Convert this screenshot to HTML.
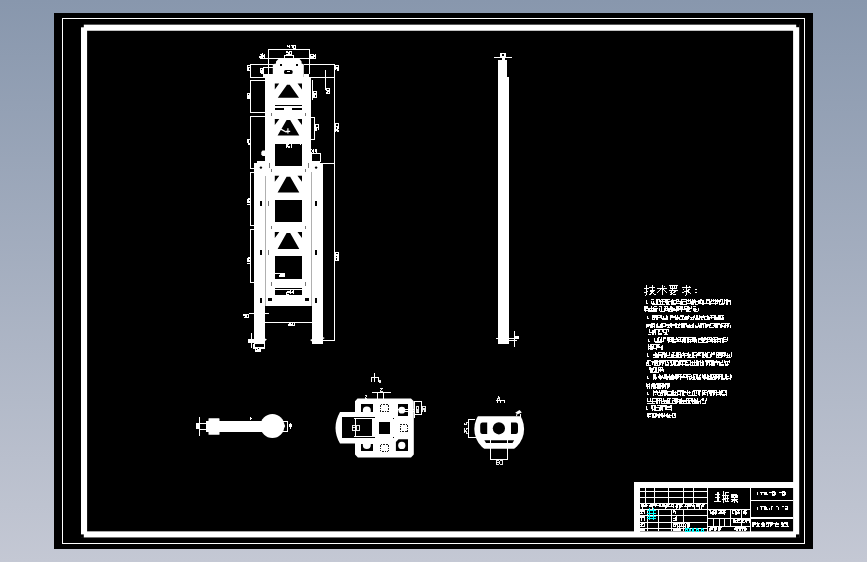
<!DOCTYPE html>
<html><head><meta charset="utf-8">
<style>
html,body{margin:0;padding:0;}
body{width:867px;height:562px;overflow:hidden;background:linear-gradient(#8897ad,#c4c8d4);font-family:"Liberation Sans",sans-serif;}
svg{position:absolute;left:0;top:0;display:block;}
</style></head><body>
<svg width="867" height="562" viewBox="0 0 867 562">
<!-- SHEET -->
<g shape-rendering="crispEdges">
<rect x="54" y="13" width="759" height="535.5" fill="#000"/>
<rect x="62.5" y="18.5" width="742" height="525" fill="none" stroke="#fff" stroke-width="1"/>
<rect x="84.05" y="27.7" width="712.1" height="506.7" fill="none" stroke="#fff" stroke-width="6.1" shape-rendering="geometricPrecision"/>
</g>
<g fill="#000"><rect x="80.5" y="24" width="3.3" height="3.3"/><rect x="796.2" y="24" width="3.3" height="3.2"/><rect x="796" y="534.4" width="3.5" height="3.5"/><rect x="80.5" y="534.4" width="3.3" height="3.5"/></g>
<!-- TOWER -->
<g id="tower" shape-rendering="crispEdges">
<!-- white masses -->
<path fill="#fff" d="M279.4 58H298.8L301.6 61.6V63.6L303.8 64.2V78H272.8V64.2L276 63.6V61.6Z" shape-rendering="auto"/>
<rect x="265.3" y="77.2" width="46" height="229" fill="#fff"/>
<path fill="#fff" d="M257 160.5H320V163.4H322.8V344H312.1V306.3H265V343.6H254.1V163.4H257Z"/>
<!-- separation lines inner/outer -->
<rect x="265.2" y="176" width="0.8" height="130" fill="#b0b0b0"/>
<rect x="311" y="172" width="0.8" height="134" fill="#b0b0b0"/>
<!-- openings -->
<g fill="#000" shape-rendering="auto">
<path d="M287 84.8H289.8L299 97.8H277.8ZM274.8 83.5H279.2L274.8 89.5ZM297.6 83.5H302V89.5Z"/>
<path d="M286.6 120.10000000000001H290.2L299.3 135.6H277.6ZM274.8 119H279.3L274.8 125.1ZM297.5 119H302V125.1Z"/>
<path d="M286.6 176.79999999999998H290.2L299.3 192.5H277.6ZM274.8 175.7H279.3L274.8 181.8ZM297.5 175.7H302V181.8Z"/>
<path d="M286.6 233.1H290.2L299.3 249H277.6ZM274.8 232H279.3L274.8 238.1ZM297.5 232H302V238.1Z"/>
</g>
<g fill="#000">
<rect x="274.9" y="144.2" width="27" height="21.3"/>
<rect x="274.9" y="199.9" width="27" height="22.5"/>
<rect x="274.9" y="256" width="27" height="23.2"/>
<rect x="274.9" y="290.3" width="27" height="4.5"/>
<rect x="274.9" y="287.8" width="27" height="0.8"/>
<rect x="274.7" y="105" width="27.4" height="1.2"/>
<rect x="274.7" y="108.2" width="9.3" height="1.5"/>
<rect x="292.2" y="108.2" width="9.9" height="1.5"/>
</g>
<g fill="#fff">
<!-- top dims -->
<rect x="268" y="49" width="41.5" height="1"/>
<rect x="268" y="49" width="1" height="25"/>
<rect x="308.5" y="49" width="1" height="25"/>
<rect x="260" y="58" width="56" height="1"/>
<rect x="284" y="54.5" width="10" height="1"/>
<rect x="284" y="54.5" width="1" height="4.5"/>
<rect x="293" y="54.5" width="1" height="4.5"/>
<rect x="250" y="63.5" width="23" height="1"/>
<rect x="303.8" y="63.5" width="31" height="1"/>
<rect x="250" y="76.7" width="16" height="1"/>
<rect x="309" y="76.7" width="25.5" height="1"/>
<rect x="250" y="63.5" width="1" height="14"/>
<rect x="263" y="67" width="10" height="1"/>
<rect x="263" y="67" width="1" height="10"/>
<rect x="263" y="74" width="10" height="3.5"/>
<rect x="303.8" y="73.5" width="5.5" height="4"/>
<!-- right long dim -->
<rect x="334" y="63.5" width="1" height="277.5"/>
<rect x="320.8" y="163" width="13.5" height="1"/>
<rect x="322.8" y="340" width="12" height="1"/>
<rect x="325" y="70" width="1" height="19.5"/>
<!-- right brackets -->
<rect x="311.7" y="79.6" width="0.8" height="20"/>
<rect x="311.3" y="117" width="3.5" height="1"/>
<rect x="311.3" y="138.8" width="3.5" height="1"/>
<rect x="314.2" y="117" width="1" height="22.5"/>
<!-- XA box -->
<rect x="311.3" y="153.2" width="9.5" height="8.8"/>
<!-- left brackets -->
<rect x="250" y="80" width="15" height="1"/>
<rect x="250" y="80" width="1" height="32.8"/>
<rect x="250" y="112" width="15" height="1"/>
<rect x="250" y="116" width="15" height="1"/>
<rect x="250" y="116" width="1" height="52.5"/>
<rect x="250" y="167.7" width="4" height="1"/>
<rect x="250" y="171.5" width="4" height="1"/>
<rect x="250" y="171.5" width="1" height="54.3"/>
<rect x="250" y="225" width="4" height="1"/>
<rect x="250" y="228.8" width="4" height="1"/>
<rect x="250" y="228.8" width="1" height="54"/>
<rect x="250" y="282" width="4" height="1"/>
<!-- bottom dims -->
<rect x="248.7" y="313" width="20" height="1"/>
<rect x="265" y="321.5" width="47.2" height="1"/>
<rect x="251" y="333.4" width="1" height="14.8"/>
<rect x="247.8" y="338.5" width="6.5" height="4.5"/>
<rect x="253.2" y="343.6" width="11.6" height="5.2"/>
<path d="M265 341L267 339.5L265 338.5ZM312 341.5L310 340L312 339ZM322.8 339.3L324.8 338L322.8 337Z" shape-rendering="auto"/>
</g>
<g fill="#000">
<rect x="312" y="154.2" width="8" height="6.6"/>
<rect x="254.5" y="344.2" width="9.2" height="2.4"/>
<!-- slots in outer frame -->
<rect x="259.8" y="201.1" width="2.1" height="5.2"/><rect x="314.9" y="201.1" width="2.1" height="5.2"/>
<rect x="259.8" y="249.5" width="2.1" height="5.2"/><rect x="314.9" y="249.5" width="2.1" height="5.2"/>
<rect x="259.8" y="298.1" width="2.1" height="5.3"/><rect x="314.9" y="298.1" width="2.1" height="5.3"/>
<rect x="268.2" y="298.4" width="3.4" height="2.2"/><rect x="305.2" y="298.4" width="3.4" height="2.2"/>
<circle cx="260.9" cy="167.6" r="1.2" shape-rendering="auto"/><circle cx="316.1" cy="167.6" r="1.2" shape-rendering="auto"/>
<!-- head marks -->
<rect x="279.5" y="64" width="2" height="1.5"/><rect x="295.5" y="64" width="2" height="1.5"/>
<rect x="284" y="70" width="8.6" height="4" rx="1.5" shape-rendering="auto"/>
</g>
<rect x="286.5" y="71" width="3.5" height="1" fill="#fff"/>
<!-- ticks (dark) -->
<g fill="#777">
<rect x="271" y="112.6" width="0.8" height="3.2"/><rect x="305" y="112.6" width="0.8" height="3.2"/>
<rect x="269" y="163.4" width="0.8" height="5"/><rect x="308" y="163.4" width="0.8" height="5"/>
<rect x="271" y="169" width="0.8" height="3"/><rect x="305.2" y="169" width="0.8" height="3"/>
<rect x="268.3" y="201.1" width="0.8" height="5.2"/><rect x="308.5" y="201.1" width="0.8" height="5.2"/>
<rect x="271.3" y="225.5" width="0.8" height="3.6"/><rect x="305.2" y="225.5" width="0.8" height="3.6"/>
<rect x="268.3" y="249.5" width="0.8" height="5.2"/><rect x="308.5" y="249.5" width="0.8" height="5.2"/>
<rect x="271.3" y="282.4" width="0.8" height="3.2"/><rect x="305.2" y="282.4" width="0.8" height="3.2"/>
</g>
<!-- tiny texts -->
<!--TW0--><path fill="none" stroke="#fff" stroke-width="1" stroke-linejoin="miter" shape-rendering="crispEdges" d="M287.8 45.3L287.8 46.8L289.9 46.8M289.9 45.3L289.9 48.3M290.8 45.3L292.8 45.3L292.8 48.3M293.7 45.3L295.8 45.3L295.8 48.3L293.7 48.3ZM288.4 51.5L286.4 51.5L286.4 52.8L288.4 52.8L288.4 54.0L286.4 54.0M289.3 51.5L291.4 51.5L291.4 54.0L289.3 54.0ZM259.6 54.5L261.8 54.5L261.8 56.0L259.6 56.0L259.6 57.6L261.8 57.6M262.7 57.6L262.7 54.5L263.7 56.0L264.8 54.5L264.8 57.6M312.5 54.5L310.3 54.5L310.3 56.0L312.5 56.0L312.5 57.6L310.3 57.6M313.4 57.6L313.4 54.5L314.5 56.0L315.6 54.5L315.6 57.6M260.0 73.4L260.0 71.4L261.4 71.4L261.4 73.4L262.8 73.4L262.8 71.4M260.0 70.5L260.0 68.4L262.8 68.4L262.8 70.5ZM247.5 70.7L247.5 68.7L248.8 68.7L248.8 70.7L250.0 70.7L250.0 68.7M247.5 67.8L247.5 65.7L250.0 65.7L250.0 67.8ZM247.6 144.8L250.0 144.8M247.6 143.2L247.6 141.6L248.8 141.6L248.8 143.2L250.0 143.2L250.0 141.6M247.6 139.2L247.6 140.7L248.8 140.7L248.8 139.2L250.0 139.2L250.0 140.7M247.3 204.2L249.6 204.2M247.3 202.5L247.3 201.0L248.4 201.0L248.4 202.5L249.6 202.5L249.6 201.0M247.3 198.5L247.3 200.1L248.4 200.1L248.4 198.5L249.6 198.5L249.6 200.1M247.4 263.4L249.8 263.4M247.4 261.8L247.4 260.2L248.6 260.2L248.6 261.8L249.8 261.8L249.8 260.2M247.4 257.8L247.4 259.3L248.6 259.3L248.6 257.8L249.8 257.8L249.8 259.3M247.3 98.5L247.3 96.5L249.8 96.5L249.8 98.5ZM248.6 98.5L248.6 96.5M247.3 95.5L247.3 93.5L249.8 93.5L249.8 95.5ZM313.0 97.0L313.0 94.5L316.4 94.5L316.4 97.0ZM314.7 97.0L314.7 94.5M313.0 93.5L313.0 91.0L316.4 91.0L316.4 93.5ZM315.3 127.9L315.3 130.2L316.6 130.2L316.6 127.9L318.0 127.9L318.0 130.2M315.3 127.0L315.3 124.8L318.0 124.8L318.0 127.0ZM311.6 149.2L313.9 152.6M313.9 149.2L311.6 152.6M314.8 152.6L315.9 149.2L317.0 152.6M315.3 151.2L316.4 151.2M286.0 144.4L286.0 147.6M289.3 144.4L287.7 144.4L287.7 146.0L289.3 146.0L289.3 147.6L287.7 147.6M291.0 144.4L291.0 147.6M326.0 91.5L326.0 93.5L329.5 93.5L329.5 91.5L327.8 91.5L327.8 93.5M326.0 90.5L326.0 88.5L329.5 88.5L329.5 90.5ZM335.7 70.0L335.7 68.2L337.0 68.2L337.0 70.0L338.3 70.0L338.3 68.2M335.7 67.3L335.7 65.6L338.3 65.6L338.3 67.3ZM335.7 132.2L335.7 130.0L338.4 130.0L338.4 132.2M337.0 132.2L337.0 130.0M335.7 126.9L335.7 129.1L337.0 129.1L337.0 126.9L338.4 126.9L338.4 129.1M335.7 126.0L335.7 123.8L338.4 123.8L338.4 126.0ZM335.7 258.2L335.7 260.4L338.4 260.4L338.4 258.2L337.0 258.2L337.0 260.4M335.7 257.3L335.7 255.1L338.4 255.1L338.4 257.3ZM337.0 257.3L337.0 255.1M335.7 254.2L335.7 252.0L338.4 252.0L338.4 254.2ZM245.6 314.2L243.5 314.2L243.5 315.9L245.6 315.9L245.6 317.6L243.5 317.6M246.4 314.2L248.5 314.2L248.5 317.6L246.4 317.6ZM287.5 322.6L289.2 322.6L289.2 325.6L287.5 325.6M287.5 324.1L289.2 324.1M291.7 322.6L290.1 322.6L290.1 325.6L291.7 325.6L291.7 324.1L290.1 324.1M292.6 322.6L294.3 322.6L294.3 325.6L292.6 325.6ZM279.3 273.2L280.5 273.2L280.5 275.0L279.3 275.0L279.3 276.8L280.5 276.8M281.4 273.2L282.7 273.2L282.7 276.8L281.4 276.8ZM283.6 273.2L284.8 273.2L284.8 276.8L283.6 276.8ZM286.5 291.0L289.4 291.0L289.4 292.7L286.5 292.7L286.5 294.4L289.4 294.4M290.4 294.4L290.4 291.0L291.8 292.7L293.3 291.0L293.3 294.4"/><!--TW1-->
<rect x="274.9" y="272.5" width="4.3" height="1" fill="#fff"/>
<path d="M280.8 129.1L286.6 132.3M287.9 128.2V133.6M286 131.3H290.2" stroke="#fff" stroke-width="1.2" fill="none" shape-rendering="auto"/>
<rect x="300.3" y="144.2" width="1" height="1.2" fill="#fff"/>
<rect x="255" y="347.6" width="5.8" height="4.2" fill="#fff"/><rect x="256.2" y="349.2" width="1" height="1" fill="#000"/><rect x="258.2" y="348.4" width="1" height="1" fill="#000"/>
<!-- small C shape at left -->
<path d="M265.3 150.6H262.5L261.3 152V154.5L262.5 156H265.3Z" fill="#fff" shape-rendering="auto"/>

</g>
<!-- BAR -->
<g id="bar" shape-rendering="crispEdges">
<g fill="#fff">
<path d="M498 60.4H507.4V76.7H509.1V344H498Z"/>
<rect x="500.2" y="53.1" width="5.4" height="4.5"/>
<rect x="494" y="57" width="18" height="1"/>
<rect x="501.5" y="57" width="3" height="3.5"/>
<rect x="495.6" y="338" width="23" height="1"/>
<rect x="514" y="331.2" width="1" height="15.5"/>
<rect x="509" y="339.5" width="8" height="1"/>
<rect x="515" y="336" width="3.5" height="3"/>
</g>
<rect x="501.7" y="54.3" width="2.4" height="2" fill="#000"/>
<rect x="509.5" y="339" width="4" height="0.6" fill="#000"/>

</g>
<!-- VIEW1 -->
<g id="v1">
<g fill="#fff">
<circle cx="272.4" cy="426.1" r="12"/><path d="M281 419L285.2 426L281 433Z"/>
<rect x="205.8" y="420.8" width="60" height="11" shape-rendering="crispEdges"/>
<rect x="208.5" y="418.2" width="11" height="16.6" rx="0.6"/>
<g shape-rendering="crispEdges">
<rect x="199" y="417" width="1" height="19"/>
<rect x="196" y="423" width="3.5" height="5.6"/>
<rect x="199" y="423" width="7" height="1"/>
<rect x="199" y="429.4" width="7" height="1"/>
<rect x="282" y="421" width="6" height="1"/>
<rect x="282" y="431.3" width="6" height="1"/>
<rect x="287.3" y="421" width="1" height="11.3"/>
<rect x="288.6" y="424.4" width="3.2" height="3"/><rect x="289.6" y="423" width="1.3" height="5.8"/>
<rect x="249.5" y="416.5" width="1" height="3"/>
<rect x="250" y="417.5" width="1.5" height="1"/>
</g>
</g>


</g>
<!-- VIEW2 -->
<g id="v2">
<g>
<!-- body -->
<path fill="#fff" d="M357.5 398.5H411L413.8 401.3V454.5L411 457.4H357.9L355 454.5V443.6H340Q331 428 340 412H355V401.3Z"/>
<g fill="#000" shape-rendering="crispEdges">
<rect x="342" y="417.2" width="30.7" height="20.9"/>
<rect x="372" y="417.2" width="3.4" height="1.6"/><rect x="372" y="436.8" width="3.4" height="1.3"/>
<rect x="378.5" y="422.1" width="11.4" height="11.9"/>
<rect x="360.7" y="404.3" width="12.1" height="7.6"/>
<rect x="398" y="404.3" width="10" height="11.9"/>
<rect x="360.7" y="444" width="12.1" height="7.2"/>
<rect x="393.1" y="417.8" width="1.3" height="1.3"/>
<rect x="393.1" y="437" width="1.3" height="1.3"/>
</g>
<path fill="#000" d="M398.5 439.2H408V451H395.9V442Z"/>
<g fill="none" stroke="#000" stroke-width="0.9" stroke-dasharray="1.6 1" shape-rendering="crispEdges">
<rect x="380.8" y="404.8" width="7.2" height="6.8"/>
<rect x="380.8" y="444.5" width="7.2" height="6.8"/>
<rect x="400.4" y="424.6" width="7.4" height="7"/>
</g>
<clipPath id="cTL"><rect x="360.7" y="404.3" width="12.1" height="7.6"/></clipPath>
<clipPath id="cBL"><rect x="360.7" y="444" width="12.1" height="7.2"/></clipPath>
<g fill="#fff">
<circle cx="366.8" cy="410.6" r="4" clip-path="url(#cTL)"/>
<circle cx="401.8" cy="410.2" r="3.4"/>
<circle cx="366.8" cy="445" r="4" clip-path="url(#cBL)"/>
<circle cx="401.8" cy="445.4" r="3.6"/>
<g shape-rendering="crispEdges">
<rect x="354" y="418.3" width="21.4" height="1"/>
<rect x="354" y="436.1" width="21.4" height="1"/>
<rect x="355.3" y="418.3" width="1" height="18.6"/>
<rect x="372.2" y="418.3" width="1.4" height="18.6"/>
<rect x="396.5" y="409" width="17.5" height="0.9"/>
<rect x="401" y="411" width="13" height="0.9"/>
<!-- top dims -->
<rect x="374" y="373" width="1" height="9"/>
<rect x="370.7" y="377.3" width="8" height="1"/>
<rect x="370.7" y="377.3" width="1" height="4.5"/>
<rect x="378" y="377.3" width="1" height="4.5"/>
<rect x="371.6" y="392.2" width="19.3" height="1"/>
<rect x="377" y="392.2" width="1" height="6.5"/>
<rect x="383.4" y="392.2" width="1" height="6.5"/>
<!-- right box -->
<rect x="413.6" y="401" width="8.5" height="1"/>
<rect x="413.6" y="414" width="8.5" height="1"/>
<rect x="421.2" y="401" width="1" height="14"/>
<rect x="413.6" y="401" width="1.2" height="17.2"/>
</g>
</g>
<!--V20--><path fill="none" stroke="#fff" stroke-width="0.9" shape-rendering="crispEdges" d="M355.4 425.6L352.0 425.6L352.0 430.0L355.4 430.0L355.4 427.8L352.0 427.8M356.4 425.6L359.8 425.6L359.8 430.0L356.4 430.0ZM380.4 388.4L383.0 388.4L380.4 391.0L383.0 391.0M364.8 395.6L367.2 395.6L364.8 398.0L367.2 398.0M422.6 411.8L422.6 409.4L424.0 409.4L424.0 411.8L425.4 411.8L425.4 409.4M422.6 408.6L422.6 406.2L425.4 406.2L425.4 408.6ZM416.0 412.5L416.0 409.9L417.4 409.9L417.4 412.5L418.8 412.5L418.8 409.9M416.0 409.1L416.0 406.5L418.8 406.5L418.8 409.1ZM380.6 380.8L379.2 380.8L379.2 381.4L380.6 381.4L380.6 382.0L379.2 382.0"/><!--V21-->
</g>
</g>
<!-- VIEW3 -->
<g id="v3">
<g>
<clipPath id="c3"><rect x="470" y="416.2" width="60" height="32.5"/></clipPath>
<circle cx="499.2" cy="429" r="24.9" fill="#fff" clip-path="url(#c3)"/>
<g fill="#000">
<circle cx="498.9" cy="428.3" r="6.1"/>
<path d="M487.2 422.4H482.5Q480.2 422.4 480.2 425.4V431Q480.2 434 482.5 434H487.2Z"/>
<path d="M511 422.4H515.7Q518 422.4 518 425.4V431Q518 434 515.7 434H511Z"/>
<path d="M484.4 440.3H514.1L512.5 443H486Z"/>
</g>
<g fill="#fff" shape-rendering="crispEdges">
<rect x="490" y="440.3" width="1" height="19"/>
<rect x="507.3" y="440.3" width="1" height="19"/>
<rect x="490" y="458.5" width="18.3" height="1"/>
<rect x="468.4" y="419.2" width="7" height="1"/>
<rect x="468.4" y="436.8" width="8" height="1"/>
<rect x="468.4" y="419.2" width="1" height="18.5"/>
<rect x="495.6" y="400.3" width="9" height="1"/>
<rect x="497" y="400.3" width="1" height="3"/>
<rect x="500" y="400.3" width="1" height="3"/>
<rect x="503.5" y="400.3" width="1" height="3"/>
<rect x="519.5" y="414.3" width="1.2" height="2.2"/>
</g>
<path d="M515.2 412.8L519.5 410L521.8 412.6L517.8 414.2Z" fill="#fff"/>
<path d="M516.5 416.2L517 413.5" stroke="#fff" stroke-width="1"/>
<!--V30--><path fill="none" stroke="#fff" stroke-width="0.9" shape-rendering="crispEdges" d="M499.1 460.6L496.4 460.6L496.4 464.4L499.1 464.4L499.1 462.5L496.4 462.5M499.9 460.6L502.6 460.6L502.6 464.4L499.9 464.4ZM497.6 399.6L498.8 396.0L500.0 399.6M498.2 398.2L499.4 398.2M464.0 433.2L464.0 431.2L466.0 431.2L466.0 433.2L468.0 433.2L468.0 431.2M464.0 428.4L464.0 430.3L466.0 430.3L466.0 428.4L468.0 428.4L468.0 430.3M467.6 426.7L468.0 426.7M464.0 422.6L464.0 424.6L466.0 424.6L466.0 422.6L468.0 422.6L468.0 424.6"/><!--V31-->
</g>

</g>
<!-- TEXT -->
<g id="txt">
<!--TXT0--><g fill="none" stroke="#fff" stroke-width="1" shape-rendering="crispEdges">
<path d="M644 288.1H648.5M646.1 285V295M645 295H646.1M644.5 292.5L648.2 291M649 287.7H655.4M652 285V289.8M649.8 290.2H654.6L649.3 295M650.3 291L655.4 295"/>
<path d="M662 285V295.2M657.4 288.1H666.7M661.4 288.5L657.2 292.9M662.6 288.5L666.9 292.9M664.2 286H665.2"/>
<path d="M669.3 285.5H678M670.3 285.5V288.5H676.8V285.5M672.3 285.5V288.5M674.7 285.5V288.5M669.1 290.9H678M672.7 289L670.7 293L676 295M675.5 291.3L670.3 295"/>
<path d="M682 287.7H691M686.3 285V295M685.2 295H686.3M688.8 286H689.8M682.8 289.4H683.8M682.4 293L685.6 290.9M689.7 288.9L687.3 290.9M686.8 290.5L691 294.1"/>
<path d="M694.9 289.4H697.3M694.9 292.7H697.3" stroke-width="1.4"/>
</g>
<path fill="#fff" shape-rendering="crispEdges" d="M645.8 300.4h1.0v3.3h-1.0zM645.8 302.7h2.0v1.0h-2.0zM652.3 302.5h3.0v1.0h-3.0zM651.3 298.9h3.0v1.0h-3.0zM652.3 303.7h3.9v1.0h-3.9zM651.3 300.9h1.0v3.0h-1.0zM656.1 298.9h1.0v3.0h-1.0zM652.5 300.9h1.0v3.0h-1.0zM657.2 303.7h3.9v1.0h-3.9zM656.2 298.9h4.0v1.0h-4.0zM656.2 298.9h1.0v5.8h-1.0zM657.4 298.9h1.0v5.8h-1.0zM659.9 299.9h1.0v4.8h-1.0zM658.6 298.9h1.0v3.0h-1.0zM661.1 303.7h4.0v1.0h-4.0zM661.1 298.9h4.9v1.0h-4.9zM661.1 301.3h4.9v1.0h-4.9zM665.9 299.9h1.0v4.0h-1.0zM664.8 298.9h1.0v4.0h-1.0zM662.3 298.9h1.0v5.8h-1.0zM664.1 300.9h1.5v1.2h-1.5zM666.0 298.9h4.0v1.0h-4.0zM666.0 303.7h4.0v1.0h-4.0zM666.0 301.3h4.9v1.0h-4.9zM666.0 299.9h1.0v4.8h-1.0zM670.8 300.9h1.0v3.8h-1.0zM668.4 300.9h1.0v3.0h-1.0zM667.2 298.9h1.0v5.0h-1.0zM666.0 298.9h1.5v1.2h-1.5zM671.9 303.7h3.9v1.0h-3.9zM671.9 302.5h3.9v1.0h-3.9zM670.9 300.1h4.9v1.0h-4.9zM673.3 300.9h1.0v3.0h-1.0zM672.1 298.9h1.0v5.0h-1.0zM675.7 298.9h1.0v4.0h-1.0zM670.9 300.9h1.0v3.8h-1.0zM675.8 302.5h4.9v1.0h-4.9zM676.8 301.3h3.9v1.0h-3.9zM679.5 300.9h1.0v3.8h-1.0zM678.2 298.9h1.0v3.0h-1.0zM680.6 298.9h1.0v4.0h-1.0zM676.8 298.9h1.5v1.2h-1.5zM680.7 301.3h4.9v1.0h-4.9zM681.7 303.7h3.9v1.0h-3.9zM681.7 298.9h3.9v1.0h-3.9zM681.9 300.9h1.0v3.8h-1.0zM680.7 300.9h1.0v3.8h-1.0zM685.5 298.9h1.0v5.8h-1.0zM685.6 302.5h4.6v1.0h-4.6zM686.6 300.1h3.0v1.0h-3.0zM685.6 298.9h1.0v5.8h-1.0zM690.4 298.9h1.0v5.0h-1.0zM688.0 298.9h1.0v3.0h-1.0zM691.5 301.3h3.9v1.0h-3.9zM690.5 303.7h3.0v1.0h-3.0zM690.5 300.9h1.0v3.8h-1.0zM694.2 298.9h1.0v4.0h-1.0zM691.7 298.9h1.0v5.0h-1.0zM692.9 299.9h1.0v4.8h-1.0zM695.4 303.7h3.0v1.0h-3.0zM696.4 301.3h3.9v1.0h-3.9zM695.4 299.9h1.0v4.0h-1.0zM697.8 299.9h1.0v4.0h-1.0zM699.1 299.9h1.0v4.0h-1.0zM700.3 302.5h4.9v1.0h-4.9zM700.3 300.1h3.0v1.0h-3.0zM700.3 299.9h1.0v4.0h-1.0zM702.7 299.9h1.0v4.8h-1.0zM701.5 299.9h1.0v4.8h-1.0zM700.3 298.9h1.5v1.2h-1.5zM706.2 302.5h3.9v1.0h-3.9zM706.2 298.9h3.0v1.0h-3.0zM706.2 300.1h3.0v1.0h-3.0zM708.9 298.9h1.0v5.8h-1.0zM706.4 299.9h1.0v3.0h-1.0zM710.0 300.9h1.0v3.8h-1.0zM705.2 302.9h1.5v1.2h-1.5zM711.1 300.1h3.9v1.0h-3.9zM711.1 302.5h3.9v1.0h-3.9zM712.5 298.9h1.0v3.0h-1.0zM711.3 298.9h1.0v3.0h-1.0zM714.9 298.9h1.0v5.8h-1.0zM715.0 301.3h4.0v1.0h-4.0zM716.0 300.1h3.9v1.0h-3.9zM717.4 298.9h1.0v5.0h-1.0zM718.7 300.9h1.0v3.8h-1.0zM715.0 300.9h1.0v3.8h-1.0zM716.0 302.9h1.5v1.2h-1.5zM719.9 303.7h4.0v1.0h-4.0zM719.9 298.9h3.0v1.0h-3.0zM720.9 302.5h3.0v1.0h-3.0zM722.3 298.9h1.0v4.0h-1.0zM723.6 298.9h1.0v5.0h-1.0zM719.9 298.9h1.0v3.0h-1.0zM725.8 301.3h3.9v1.0h-3.9zM724.8 300.1h4.9v1.0h-4.9zM729.6 299.9h1.0v4.8h-1.0zM726.0 298.9h1.0v5.8h-1.0zM727.2 298.9h1.0v5.8h-1.0zM727.8 300.9h1.5v1.2h-1.5zM644.0 307.6h4.0v1.0h-4.0zM645.0 310.0h3.9v1.0h-3.9zM644.0 306.4h1.0v5.0h-1.0zM645.2 306.4h1.0v5.8h-1.0zM646.5 306.4h1.0v3.0h-1.0zM647.7 308.4h1.0v3.8h-1.0zM645.0 306.4h1.5v1.2h-1.5zM648.9 311.2h4.0v1.0h-4.0zM648.9 310.0h4.6v1.0h-4.6zM648.9 307.6h4.6v1.0h-4.6zM648.9 308.4h1.0v3.8h-1.0zM651.4 306.4h1.0v5.8h-1.0zM652.6 307.4h1.0v4.8h-1.0zM653.8 307.6h4.6v1.0h-4.6zM653.8 306.4h3.0v1.0h-3.0zM655.0 308.4h1.0v3.8h-1.0zM656.2 308.4h1.0v3.8h-1.0zM653.8 308.4h1.0v3.8h-1.0zM653.8 310.4h1.5v1.2h-1.5zM658.7 306.4h3.0v1.0h-3.0zM659.7 311.2h3.9v1.0h-3.9zM658.7 308.4h1.0v3.0h-1.0zM661.1 307.4h1.0v4.8h-1.0zM663.5 308.4h1.0v3.8h-1.0zM663.6 306.4h4.0v1.0h-4.0zM663.6 307.6h4.6v1.0h-4.6zM664.6 310.0h3.9v1.0h-3.9zM668.4 308.4h1.0v3.8h-1.0zM664.8 306.4h1.0v5.0h-1.0zM667.3 307.4h1.0v3.0h-1.0zM669.5 311.2h3.9v1.0h-3.9zM668.5 307.6h4.9v1.0h-4.9zM668.5 308.4h1.0v3.8h-1.0zM672.2 307.4h1.0v4.0h-1.0zM670.9 306.4h1.0v5.0h-1.0zM669.7 306.4h1.0v4.0h-1.0zM670.5 306.4h1.5v1.2h-1.5zM673.4 308.8h3.0v1.0h-3.0zM673.4 310.0h4.9v1.0h-4.9zM678.2 306.4h1.0v5.0h-1.0zM675.8 306.4h1.0v5.8h-1.0zM677.1 306.4h1.0v4.0h-1.0zM673.4 308.4h1.5v1.2h-1.5zM678.3 308.8h4.0v1.0h-4.0zM678.3 307.6h4.0v1.0h-4.0zM678.3 306.4h4.6v1.0h-4.6zM682.0 306.4h1.0v4.0h-1.0zM678.3 306.4h1.0v3.0h-1.0zM679.5 307.4h1.0v3.0h-1.0zM680.7 306.4h1.0v5.8h-1.0zM684.2 307.6h3.9v1.0h-3.9zM684.2 306.4h3.9v1.0h-3.9zM683.2 308.8h4.9v1.0h-4.9zM684.4 306.4h1.0v3.0h-1.0zM685.6 308.4h1.0v3.8h-1.0zM686.9 306.4h1.0v5.8h-1.0zM688.1 311.2h3.0v1.0h-3.0zM688.1 307.6h4.0v1.0h-4.0zM690.5 306.4h1.0v3.0h-1.0zM688.1 306.4h1.0v5.8h-1.0zM689.3 307.4h1.0v3.0h-1.0zM692.9 308.4h1.0v3.0h-1.0zM694.0 311.2h3.9v1.0h-3.9zM693.0 306.4h3.0v1.0h-3.0zM693.0 308.8h4.0v1.0h-4.0zM694.2 308.4h1.0v3.8h-1.0zM697.8 308.4h1.0v3.0h-1.0zM695.4 308.4h1.0v3.8h-1.0zM646.9 316.0h1.0v3.3h-1.0zM646.9 318.3h2.0v1.0h-2.0zM652.4 315.7h4.6v1.0h-4.6zM652.4 314.5h4.6v1.0h-4.6zM653.4 316.9h3.9v1.0h-3.9zM652.4 315.5h1.0v3.0h-1.0zM656.1 314.5h1.0v5.8h-1.0zM657.2 315.5h1.0v4.8h-1.0zM653.6 315.5h1.0v4.8h-1.0zM652.4 318.5h1.5v1.2h-1.5zM657.3 314.5h3.0v1.0h-3.0zM658.3 316.9h3.9v1.0h-3.9zM659.8 314.5h1.0v3.0h-1.0zM661.0 314.5h1.0v4.0h-1.0zM657.3 315.5h1.0v4.8h-1.0zM659.3 314.5h1.5v1.2h-1.5zM662.2 318.1h4.0v1.0h-4.0zM662.2 319.3h4.9v1.0h-4.9zM665.9 314.5h1.0v5.8h-1.0zM667.0 315.5h1.0v4.8h-1.0zM663.4 315.5h1.0v3.0h-1.0zM670.0 315.7h4.6v1.0h-4.6zM670.0 314.5h3.0v1.0h-3.0zM670.0 316.9h4.9v1.0h-4.9zM674.8 316.5h1.0v3.8h-1.0zM670.0 314.5h1.0v5.0h-1.0zM671.3 314.5h1.0v3.0h-1.0zM675.9 316.9h3.9v1.0h-3.9zM674.9 318.1h4.6v1.0h-4.6zM678.6 316.5h1.0v3.8h-1.0zM674.9 314.5h1.0v3.0h-1.0zM677.4 314.5h1.0v5.8h-1.0zM675.9 318.5h1.5v1.2h-1.5zM679.8 319.3h4.9v1.0h-4.9zM679.8 315.7h4.6v1.0h-4.6zM679.8 314.5h4.6v1.0h-4.6zM682.3 314.5h1.0v5.0h-1.0zM683.5 316.5h1.0v3.8h-1.0zM684.6 316.5h1.0v3.0h-1.0zM680.8 314.5h1.5v1.2h-1.5zM684.7 315.7h4.9v1.0h-4.9zM684.7 318.1h4.0v1.0h-4.0zM684.7 319.3h3.0v1.0h-3.0zM686.0 315.5h1.0v4.0h-1.0zM687.2 315.5h1.0v4.8h-1.0zM688.4 314.5h1.0v3.0h-1.0zM684.7 316.5h1.0v3.8h-1.0zM685.7 316.5h1.5v1.2h-1.5zM689.6 316.9h4.0v1.0h-4.0zM689.6 319.3h4.6v1.0h-4.6zM690.9 316.5h1.0v3.8h-1.0zM693.3 315.5h1.0v3.0h-1.0zM694.4 314.5h1.0v3.0h-1.0zM692.6 318.5h1.5v1.2h-1.5zM694.5 319.3h4.0v1.0h-4.0zM694.5 318.1h4.0v1.0h-4.0zM695.8 314.5h1.0v5.8h-1.0zM699.3 314.5h1.0v5.8h-1.0zM697.0 314.5h1.0v3.0h-1.0zM700.4 316.9h3.9v1.0h-3.9zM700.4 315.7h3.9v1.0h-3.9zM699.4 314.5h1.0v5.8h-1.0zM704.2 315.5h1.0v4.0h-1.0zM703.1 314.5h1.0v3.0h-1.0zM700.7 315.5h1.0v4.8h-1.0zM701.4 318.5h1.5v1.2h-1.5zM705.3 319.3h3.9v1.0h-3.9zM704.3 315.7h4.9v1.0h-4.9zM706.8 314.5h1.0v5.8h-1.0zM704.3 316.5h1.0v3.0h-1.0zM708.0 315.5h1.0v4.0h-1.0zM710.2 314.5h3.9v1.0h-3.9zM709.2 316.9h4.9v1.0h-4.9zM710.5 314.5h1.0v4.0h-1.0zM709.2 316.5h1.0v3.8h-1.0zM714.0 315.5h1.0v4.0h-1.0zM710.2 316.5h1.5v1.2h-1.5zM714.1 319.3h4.0v1.0h-4.0zM714.1 318.1h4.9v1.0h-4.9zM715.1 316.9h3.0v1.0h-3.0zM718.9 314.5h1.0v4.0h-1.0zM715.4 314.5h1.0v5.8h-1.0zM717.8 314.5h1.0v5.8h-1.0zM714.1 314.5h1.5v1.2h-1.5zM719.0 314.5h4.0v1.0h-4.0zM719.0 319.3h4.9v1.0h-4.9zM719.0 318.1h4.6v1.0h-4.6zM722.7 316.5h1.0v3.8h-1.0zM721.5 314.5h1.0v3.0h-1.0zM720.3 314.5h1.0v5.0h-1.0zM722.0 314.5h1.5v1.2h-1.5zM646.3 326.1h3.0v1.0h-3.0zM646.3 324.9h4.9v1.0h-4.9zM646.3 323.7h4.6v1.0h-4.6zM651.1 323.5h1.0v4.8h-1.0zM650.0 324.5h1.0v3.0h-1.0zM646.3 324.5h1.0v3.8h-1.0zM651.2 326.1h3.0v1.0h-3.0zM651.2 322.5h4.0v1.0h-4.0zM652.2 323.7h3.0v1.0h-3.0zM656.0 323.5h1.0v4.8h-1.0zM653.6 322.5h1.0v5.0h-1.0zM652.4 323.5h1.0v4.8h-1.0zM651.2 322.5h1.5v1.2h-1.5zM656.1 326.1h4.9v1.0h-4.9zM656.1 327.3h4.0v1.0h-4.0zM659.8 323.5h1.0v4.0h-1.0zM657.3 322.5h1.0v5.0h-1.0zM656.1 323.5h1.0v4.8h-1.0zM656.1 326.5h1.5v1.2h-1.5zM662.0 326.1h3.0v1.0h-3.0zM661.0 322.5h4.6v1.0h-4.6zM662.2 322.5h1.0v5.0h-1.0zM664.7 322.5h1.0v4.0h-1.0zM661.0 322.5h1.0v5.8h-1.0zM664.0 322.5h1.5v1.2h-1.5zM666.9 327.3h3.0v1.0h-3.0zM665.9 323.7h4.6v1.0h-4.6zM665.9 324.9h4.6v1.0h-4.6zM668.3 323.5h1.0v4.0h-1.0zM670.7 324.5h1.0v3.8h-1.0zM669.6 322.5h1.0v4.0h-1.0zM667.9 326.5h1.5v1.2h-1.5zM671.8 324.9h3.9v1.0h-3.9zM671.8 323.7h3.0v1.0h-3.0zM674.5 322.5h1.0v5.8h-1.0zM670.8 322.5h1.0v5.8h-1.0zM675.6 323.5h1.0v3.0h-1.0zM675.7 327.3h4.6v1.0h-4.6zM676.7 323.7h3.9v1.0h-3.9zM679.4 322.5h1.0v3.0h-1.0zM678.1 323.5h1.0v4.0h-1.0zM680.5 322.5h1.0v5.0h-1.0zM675.7 322.5h1.5v1.2h-1.5zM680.6 323.7h4.9v1.0h-4.9zM681.6 322.5h3.9v1.0h-3.9zM681.8 322.5h1.0v5.8h-1.0zM683.0 324.5h1.0v3.0h-1.0zM680.6 324.5h1.0v3.0h-1.0zM684.3 324.5h1.0v3.8h-1.0zM680.6 326.5h1.5v1.2h-1.5zM685.5 326.1h4.9v1.0h-4.9zM685.5 324.9h4.6v1.0h-4.6zM686.5 327.3h3.9v1.0h-3.9zM689.2 323.5h1.0v4.0h-1.0zM690.3 324.5h1.0v3.8h-1.0zM685.5 322.5h1.0v3.0h-1.0zM686.5 324.5h1.5v1.2h-1.5zM690.4 327.3h4.0v1.0h-4.0zM690.4 324.9h3.0v1.0h-3.0zM690.4 324.5h1.0v3.0h-1.0zM691.6 323.5h1.0v4.8h-1.0zM692.8 322.5h1.0v4.0h-1.0zM691.4 326.5h1.5v1.2h-1.5zM695.3 326.1h4.6v1.0h-4.6zM695.3 327.3h3.0v1.0h-3.0zM699.0 324.5h1.0v3.0h-1.0zM697.7 322.5h1.0v4.0h-1.0zM695.3 324.5h1.0v3.8h-1.0zM700.2 323.7h4.0v1.0h-4.0zM700.2 322.5h4.6v1.0h-4.6zM700.2 322.5h1.0v5.8h-1.0zM701.4 322.5h1.0v5.0h-1.0zM705.0 322.5h1.0v5.8h-1.0zM702.6 324.5h1.0v3.8h-1.0zM705.1 324.9h4.6v1.0h-4.6zM705.1 323.7h4.9v1.0h-4.9zM705.1 326.1h3.0v1.0h-3.0zM705.1 322.5h1.0v5.8h-1.0zM708.8 324.5h1.0v3.8h-1.0zM706.3 324.5h1.0v3.8h-1.0zM706.1 324.5h1.5v1.2h-1.5zM710.0 327.3h4.0v1.0h-4.0zM710.0 322.5h4.6v1.0h-4.6zM714.8 324.5h1.0v3.8h-1.0zM710.0 322.5h1.0v3.0h-1.0zM713.7 322.5h1.0v4.0h-1.0zM713.0 324.5h1.5v1.2h-1.5zM714.9 323.7h4.6v1.0h-4.6zM714.9 322.5h4.6v1.0h-4.6zM719.7 323.5h1.0v4.8h-1.0zM717.3 324.5h1.0v3.8h-1.0zM716.1 323.5h1.0v4.8h-1.0zM714.9 322.5h1.0v5.0h-1.0zM715.9 322.5h1.5v1.2h-1.5zM719.8 324.9h3.0v1.0h-3.0zM720.8 326.1h3.0v1.0h-3.0zM720.8 322.5h3.9v1.0h-3.9zM723.5 324.5h1.0v3.8h-1.0zM719.8 323.5h1.0v4.8h-1.0zM721.0 323.5h1.0v4.8h-1.0zM721.8 322.5h1.5v1.2h-1.5zM725.7 322.5h3.9v1.0h-3.9zM724.7 324.9h4.6v1.0h-4.6zM724.7 323.5h1.0v4.8h-1.0zM729.5 324.5h1.0v3.8h-1.0zM728.4 323.5h1.0v3.0h-1.0zM727.1 322.5h1.0v5.8h-1.0zM724.7 322.5h1.5v1.2h-1.5zM648.0 334.2h3.0v1.0h-3.0zM649.0 331.8h3.9v1.0h-3.9zM652.8 330.4h1.0v4.8h-1.0zM649.2 329.4h1.0v4.0h-1.0zM651.7 330.4h1.0v4.8h-1.0zM653.9 329.4h3.9v1.0h-3.9zM652.9 330.6h3.0v1.0h-3.0zM652.9 330.4h1.0v4.8h-1.0zM654.1 330.4h1.0v3.0h-1.0zM655.4 329.4h1.0v5.8h-1.0zM657.8 334.2h3.0v1.0h-3.0zM657.8 333.0h3.0v1.0h-3.0zM658.8 329.4h3.0v1.0h-3.0zM661.5 329.4h1.0v3.0h-1.0zM659.0 329.4h1.0v3.0h-1.0zM657.8 329.4h1.0v4.0h-1.0zM660.8 333.4h1.5v1.2h-1.5zM662.7 331.8h3.0v1.0h-3.0zM662.7 329.4h4.9v1.0h-4.9zM663.7 334.2h3.9v1.0h-3.9zM662.7 329.4h1.0v3.0h-1.0zM666.4 330.4h1.0v4.0h-1.0zM667.5 329.4h1.0v3.0h-1.0zM664.7 333.4h1.5v1.2h-1.5zM648.0 338.5h1.0v3.3h-1.0zM648.0 340.8h2.0v1.0h-2.0zM654.5 341.8h3.9v1.0h-3.9zM653.5 340.6h4.0v1.0h-4.0zM653.5 338.0h1.0v4.0h-1.0zM658.3 337.0h1.0v4.0h-1.0zM657.2 338.0h1.0v4.0h-1.0zM658.4 341.8h3.0v1.0h-3.0zM658.4 340.6h4.9v1.0h-4.9zM659.6 339.0h1.0v3.8h-1.0zM660.9 337.0h1.0v5.8h-1.0zM658.4 337.0h1.0v4.0h-1.0zM658.4 337.0h1.5v1.2h-1.5zM663.3 338.2h3.0v1.0h-3.0zM663.3 337.0h3.0v1.0h-3.0zM663.3 338.0h1.0v4.0h-1.0zM668.1 337.0h1.0v5.8h-1.0zM667.0 337.0h1.0v4.0h-1.0zM663.3 337.0h1.5v1.2h-1.5zM668.2 339.4h3.0v1.0h-3.0zM669.2 340.6h3.9v1.0h-3.9zM668.2 337.0h4.6v1.0h-4.6zM670.6 337.0h1.0v5.0h-1.0zM671.9 338.0h1.0v4.8h-1.0zM669.4 337.0h1.0v5.0h-1.0zM674.1 340.6h3.0v1.0h-3.0zM673.1 339.4h3.0v1.0h-3.0zM673.1 341.8h3.0v1.0h-3.0zM675.5 337.0h1.0v3.0h-1.0zM676.8 338.0h1.0v4.0h-1.0zM677.9 339.0h1.0v3.0h-1.0zM673.1 337.0h1.0v5.0h-1.0zM678.0 340.6h4.0v1.0h-4.0zM678.0 337.0h4.6v1.0h-4.6zM682.8 337.0h1.0v5.0h-1.0zM680.4 337.0h1.0v4.0h-1.0zM681.7 339.0h1.0v3.8h-1.0zM678.0 339.0h1.5v1.2h-1.5zM682.9 337.0h4.9v1.0h-4.9zM682.9 339.4h3.0v1.0h-3.0zM682.9 338.2h3.0v1.0h-3.0zM685.3 339.0h1.0v3.8h-1.0zM684.1 337.0h1.0v5.8h-1.0zM686.6 337.0h1.0v5.8h-1.0zM687.7 337.0h1.0v5.8h-1.0zM687.8 337.0h4.0v1.0h-4.0zM687.8 339.4h4.6v1.0h-4.6zM687.8 340.6h4.9v1.0h-4.9zM691.5 337.0h1.0v5.0h-1.0zM690.2 339.0h1.0v3.8h-1.0zM692.6 337.0h1.0v5.0h-1.0zM687.8 338.0h1.0v4.8h-1.0zM688.8 337.0h1.5v1.2h-1.5zM692.7 339.4h4.0v1.0h-4.0zM692.7 338.2h3.0v1.0h-3.0zM692.7 337.0h3.0v1.0h-3.0zM693.9 338.0h1.0v4.8h-1.0zM696.4 339.0h1.0v3.8h-1.0zM692.7 337.0h1.0v3.0h-1.0zM695.1 337.0h1.0v5.0h-1.0zM695.7 339.0h1.5v1.2h-1.5zM697.6 338.2h4.0v1.0h-4.0zM697.6 339.4h4.9v1.0h-4.9zM697.6 341.8h4.0v1.0h-4.0zM701.3 337.0h1.0v4.0h-1.0zM702.4 337.0h1.0v5.8h-1.0zM697.6 339.0h1.0v3.8h-1.0zM697.6 339.0h1.5v1.2h-1.5zM702.5 338.2h4.9v1.0h-4.9zM702.5 339.4h4.9v1.0h-4.9zM703.5 341.8h3.9v1.0h-3.9zM704.9 337.0h1.0v3.0h-1.0zM702.5 338.0h1.0v4.8h-1.0zM703.7 337.0h1.0v4.0h-1.0zM707.3 337.0h1.0v5.8h-1.0zM705.5 341.0h1.5v1.2h-1.5zM707.4 337.0h4.9v1.0h-4.9zM708.4 339.4h3.9v1.0h-3.9zM707.4 340.6h4.0v1.0h-4.0zM711.1 337.0h1.0v5.0h-1.0zM707.4 338.0h1.0v4.8h-1.0zM709.8 339.0h1.0v3.0h-1.0zM708.6 337.0h1.0v3.0h-1.0zM710.4 341.0h1.5v1.2h-1.5zM712.3 339.4h4.9v1.0h-4.9zM713.3 337.0h3.9v1.0h-3.9zM712.3 340.6h4.9v1.0h-4.9zM713.5 337.0h1.0v5.8h-1.0zM717.1 337.0h1.0v4.0h-1.0zM712.3 338.0h1.0v4.8h-1.0zM714.7 339.0h1.0v3.8h-1.0zM717.2 338.2h4.6v1.0h-4.6zM717.2 339.4h4.0v1.0h-4.0zM717.2 340.6h3.0v1.0h-3.0zM719.6 338.0h1.0v4.8h-1.0zM722.0 339.0h1.0v3.8h-1.0zM717.2 339.0h1.0v3.8h-1.0zM722.1 339.4h4.6v1.0h-4.6zM722.1 340.6h4.6v1.0h-4.6zM723.1 337.0h3.0v1.0h-3.0zM722.1 338.0h1.0v4.8h-1.0zM723.3 337.0h1.0v5.8h-1.0zM726.9 337.0h1.0v4.0h-1.0zM725.1 339.0h1.5v1.2h-1.5zM648.1 348.0h3.0v1.0h-3.0zM648.1 345.6h3.9v1.0h-3.9zM648.3 344.4h1.0v5.8h-1.0zM650.8 344.4h1.0v5.8h-1.0zM649.6 344.4h1.0v5.8h-1.0zM650.1 344.4h1.5v1.2h-1.5zM652.0 348.0h4.9v1.0h-4.9zM652.0 344.4h4.9v1.0h-4.9zM653.2 344.4h1.0v4.0h-1.0zM655.7 345.4h1.0v4.8h-1.0zM652.0 346.4h1.0v3.8h-1.0zM656.9 344.4h3.0v1.0h-3.0zM656.9 345.6h3.0v1.0h-3.0zM657.9 346.8h3.9v1.0h-3.9zM656.9 344.4h1.0v4.0h-1.0zM660.6 346.4h1.0v3.8h-1.0zM658.1 345.4h1.0v3.0h-1.0zM661.7 345.4h1.0v4.8h-1.0zM657.9 346.4h1.5v1.2h-1.5zM647.1 353.2h1.0v3.3h-1.0zM647.1 355.5h2.0v1.0h-2.0zM652.6 355.3h4.6v1.0h-4.6zM652.6 354.1h4.6v1.0h-4.6zM652.6 356.5h4.9v1.0h-4.9zM655.1 352.7h1.0v4.0h-1.0zM657.4 353.7h1.0v3.0h-1.0zM656.3 352.7h1.0v4.0h-1.0zM654.6 351.7h1.5v1.2h-1.5zM658.5 351.7h3.9v1.0h-3.9zM658.5 355.3h3.0v1.0h-3.0zM657.5 354.1h4.6v1.0h-4.6zM657.5 351.7h1.0v5.8h-1.0zM662.3 351.7h1.0v5.8h-1.0zM661.2 353.7h1.0v3.8h-1.0zM657.5 351.7h1.5v1.2h-1.5zM662.4 352.9h3.0v1.0h-3.0zM662.4 351.7h3.0v1.0h-3.0zM663.4 354.1h3.0v1.0h-3.0zM664.9 352.7h1.0v4.8h-1.0zM663.6 351.7h1.0v5.8h-1.0zM666.1 351.7h1.0v5.0h-1.0zM662.4 353.7h1.5v1.2h-1.5zM667.3 355.3h3.0v1.0h-3.0zM667.3 356.5h4.9v1.0h-4.9zM672.1 353.7h1.0v3.8h-1.0zM668.5 351.7h1.0v3.0h-1.0zM671.0 353.7h1.0v3.8h-1.0zM672.2 351.7h3.0v1.0h-3.0zM672.2 356.5h4.9v1.0h-4.9zM672.2 355.3h4.6v1.0h-4.6zM677.0 351.7h1.0v3.0h-1.0zM673.4 352.7h1.0v4.0h-1.0zM675.9 351.7h1.0v5.0h-1.0zM677.1 354.1h3.0v1.0h-3.0zM677.1 351.7h3.0v1.0h-3.0zM678.1 356.5h3.0v1.0h-3.0zM680.8 353.7h1.0v3.8h-1.0zM679.5 351.7h1.0v5.0h-1.0zM678.3 352.7h1.0v4.8h-1.0zM677.1 353.7h1.0v3.8h-1.0zM682.0 352.9h4.9v1.0h-4.9zM682.0 355.3h4.6v1.0h-4.6zM686.8 352.7h1.0v3.0h-1.0zM684.4 352.7h1.0v4.8h-1.0zM683.2 351.7h1.0v4.0h-1.0zM686.9 355.3h4.0v1.0h-4.0zM686.9 356.5h4.6v1.0h-4.6zM687.9 354.1h3.0v1.0h-3.0zM689.3 353.7h1.0v3.8h-1.0zM691.7 351.7h1.0v5.0h-1.0zM688.1 351.7h1.0v5.8h-1.0zM689.9 353.7h1.5v1.2h-1.5zM692.8 355.3h3.9v1.0h-3.9zM691.8 356.5h3.0v1.0h-3.0zM692.8 351.7h3.9v1.0h-3.9zM695.5 353.7h1.0v3.8h-1.0zM693.0 351.7h1.0v5.8h-1.0zM696.6 352.7h1.0v3.0h-1.0zM691.8 351.7h1.0v5.8h-1.0zM696.7 355.3h4.0v1.0h-4.0zM696.7 352.9h4.0v1.0h-4.0zM697.7 351.7h3.9v1.0h-3.9zM699.1 351.7h1.0v4.0h-1.0zM701.5 351.7h1.0v5.8h-1.0zM697.9 352.7h1.0v3.0h-1.0zM699.7 351.7h1.5v1.2h-1.5zM702.6 354.1h3.0v1.0h-3.0zM701.6 356.5h3.0v1.0h-3.0zM701.6 355.3h4.9v1.0h-4.9zM706.4 352.7h1.0v4.8h-1.0zM702.8 351.7h1.0v5.8h-1.0zM705.3 351.7h1.0v5.0h-1.0zM706.5 351.7h3.0v1.0h-3.0zM707.5 356.5h3.9v1.0h-3.9zM710.2 353.7h1.0v3.0h-1.0zM711.3 351.7h1.0v5.0h-1.0zM706.5 352.7h1.0v4.8h-1.0zM706.5 355.7h1.5v1.2h-1.5zM711.4 352.9h4.0v1.0h-4.0zM711.4 354.1h3.0v1.0h-3.0zM713.8 351.7h1.0v3.0h-1.0zM716.2 352.7h1.0v4.8h-1.0zM711.4 353.7h1.0v3.0h-1.0zM713.4 351.7h1.5v1.2h-1.5zM716.3 354.1h4.9v1.0h-4.9zM716.3 355.3h4.6v1.0h-4.6zM716.3 356.5h4.9v1.0h-4.9zM716.3 351.7h1.0v5.8h-1.0zM718.7 351.7h1.0v4.0h-1.0zM717.5 351.7h1.0v5.8h-1.0zM720.0 351.7h1.0v3.0h-1.0zM717.3 351.7h1.5v1.2h-1.5zM721.2 352.9h3.0v1.0h-3.0zM722.2 355.3h3.0v1.0h-3.0zM721.2 351.7h4.6v1.0h-4.6zM723.6 352.7h1.0v4.0h-1.0zM722.4 352.7h1.0v4.0h-1.0zM724.9 351.7h1.0v4.0h-1.0zM721.2 353.7h1.0v3.8h-1.0zM726.1 355.3h4.0v1.0h-4.0zM726.1 356.5h4.6v1.0h-4.6zM730.9 351.7h1.0v5.0h-1.0zM728.5 353.7h1.0v3.0h-1.0zM727.3 352.7h1.0v4.8h-1.0zM646.7 364.8h3.9v1.0h-3.9zM646.7 360.0h3.9v1.0h-3.9zM648.2 360.0h1.0v5.0h-1.0zM645.7 362.0h1.0v3.8h-1.0zM646.9 360.0h1.0v4.0h-1.0zM647.7 362.0h1.5v1.2h-1.5zM651.6 362.4h3.0v1.0h-3.0zM650.6 361.2h4.6v1.0h-4.6zM655.4 360.0h1.0v5.8h-1.0zM651.8 361.0h1.0v4.0h-1.0zM654.3 361.0h1.0v4.8h-1.0zM653.6 360.0h1.5v1.2h-1.5zM656.5 361.2h3.9v1.0h-3.9zM655.5 364.8h3.0v1.0h-3.0zM655.5 360.0h1.0v4.0h-1.0zM659.2 360.0h1.0v5.8h-1.0zM656.7 360.0h1.0v5.8h-1.0zM655.5 360.0h1.5v1.2h-1.5zM660.4 360.0h4.9v1.0h-4.9zM660.4 362.4h3.0v1.0h-3.0zM660.4 361.2h4.9v1.0h-4.9zM661.6 360.0h1.0v5.8h-1.0zM662.9 361.0h1.0v3.0h-1.0zM660.4 360.0h1.0v5.0h-1.0zM665.3 363.6h4.0v1.0h-4.0zM665.3 360.0h4.9v1.0h-4.9zM666.3 364.8h3.0v1.0h-3.0zM667.8 362.0h1.0v3.8h-1.0zM665.3 360.0h1.0v5.8h-1.0zM670.1 360.0h1.0v3.0h-1.0zM666.5 360.0h1.0v3.0h-1.0zM666.3 360.0h1.5v1.2h-1.5zM671.2 360.0h3.9v1.0h-3.9zM670.2 364.8h3.0v1.0h-3.0zM671.2 363.6h3.9v1.0h-3.9zM675.0 360.0h1.0v5.0h-1.0zM671.4 360.0h1.0v4.0h-1.0zM672.6 360.0h1.0v5.0h-1.0zM673.9 360.0h1.0v5.8h-1.0zM672.2 360.0h1.5v1.2h-1.5zM675.1 364.8h4.9v1.0h-4.9zM676.1 361.2h3.9v1.0h-3.9zM675.1 360.0h3.0v1.0h-3.0zM678.8 360.0h1.0v5.8h-1.0zM679.9 360.0h1.0v5.0h-1.0zM677.5 361.0h1.0v4.8h-1.0zM677.1 364.0h1.5v1.2h-1.5zM681.0 363.6h3.9v1.0h-3.9zM681.0 360.0h3.9v1.0h-3.9zM680.0 361.2h4.9v1.0h-4.9zM680.0 360.0h1.0v3.0h-1.0zM682.4 361.0h1.0v4.8h-1.0zM684.8 360.0h1.0v5.8h-1.0zM684.9 363.6h4.6v1.0h-4.6zM685.9 360.0h3.9v1.0h-3.9zM685.9 364.8h3.0v1.0h-3.0zM689.7 360.0h1.0v5.8h-1.0zM684.9 360.0h1.0v5.8h-1.0zM686.1 360.0h1.0v3.0h-1.0zM686.9 362.0h1.5v1.2h-1.5zM689.8 364.8h4.9v1.0h-4.9zM690.8 362.4h3.9v1.0h-3.9zM693.5 360.0h1.0v5.0h-1.0zM689.8 362.0h1.0v3.8h-1.0zM692.2 361.0h1.0v4.8h-1.0zM689.8 364.0h1.5v1.2h-1.5zM694.7 364.8h4.0v1.0h-4.0zM695.7 361.2h3.9v1.0h-3.9zM694.7 362.4h4.6v1.0h-4.6zM699.5 360.0h1.0v4.0h-1.0zM698.4 361.0h1.0v4.0h-1.0zM695.9 360.0h1.0v5.8h-1.0zM697.1 362.0h1.0v3.8h-1.0zM696.7 360.0h1.5v1.2h-1.5zM699.6 364.8h4.6v1.0h-4.6zM699.6 362.4h4.0v1.0h-4.0zM702.0 360.0h1.0v5.8h-1.0zM699.6 360.0h1.0v5.8h-1.0zM703.3 361.0h1.0v4.8h-1.0zM705.5 360.0h3.9v1.0h-3.9zM704.5 361.2h4.6v1.0h-4.6zM705.5 362.4h3.9v1.0h-3.9zM705.7 361.0h1.0v4.8h-1.0zM709.3 360.0h1.0v5.8h-1.0zM706.9 361.0h1.0v4.0h-1.0zM704.5 360.0h1.5v1.2h-1.5zM710.4 360.0h3.9v1.0h-3.9zM709.4 363.6h4.6v1.0h-4.6zM710.4 361.2h3.0v1.0h-3.0zM713.1 361.0h1.0v4.8h-1.0zM714.2 361.0h1.0v4.8h-1.0zM711.8 362.0h1.0v3.8h-1.0zM710.6 362.0h1.0v3.8h-1.0zM712.4 362.0h1.5v1.2h-1.5zM714.3 362.4h4.9v1.0h-4.9zM715.3 361.2h3.9v1.0h-3.9zM714.3 361.0h1.0v4.0h-1.0zM716.7 362.0h1.0v3.0h-1.0zM715.5 360.0h1.0v3.0h-1.0zM719.1 361.0h1.0v4.8h-1.0zM720.2 364.8h3.9v1.0h-3.9zM719.2 363.6h4.9v1.0h-4.9zM719.2 362.4h3.0v1.0h-3.0zM724.0 360.0h1.0v3.0h-1.0zM721.6 360.0h1.0v3.0h-1.0zM720.4 362.0h1.0v3.8h-1.0zM724.1 361.2h4.9v1.0h-4.9zM725.1 363.6h3.9v1.0h-3.9zM725.1 364.8h3.0v1.0h-3.0zM725.3 361.0h1.0v3.0h-1.0zM726.5 361.0h1.0v4.8h-1.0zM728.9 360.0h1.0v3.0h-1.0zM648.5 369.2h4.6v1.0h-4.6zM649.5 370.4h3.9v1.0h-3.9zM649.5 371.6h3.9v1.0h-3.9zM652.2 367.8h1.0v4.8h-1.0zM649.7 366.8h1.0v5.8h-1.0zM648.5 366.8h1.0v3.0h-1.0zM651.0 367.8h1.0v4.8h-1.0zM650.5 368.8h1.5v1.2h-1.5zM653.4 366.8h4.0v1.0h-4.0zM653.4 371.6h4.6v1.0h-4.6zM658.2 368.8h1.0v3.8h-1.0zM654.6 366.8h1.0v4.0h-1.0zM655.9 366.8h1.0v5.8h-1.0zM653.4 366.8h1.0v3.0h-1.0zM654.4 370.8h1.5v1.2h-1.5zM658.3 370.4h4.6v1.0h-4.6zM658.3 366.8h4.0v1.0h-4.0zM658.3 369.2h4.6v1.0h-4.6zM659.5 366.8h1.0v5.0h-1.0zM658.3 366.8h1.0v5.8h-1.0zM663.1 368.8h1.0v3.0h-1.0zM662.0 366.8h1.0v4.0h-1.0zM647.1 375.9h1.0v3.3h-1.0zM647.1 378.2h2.0v1.0h-2.0zM652.6 378.0h4.0v1.0h-4.0zM652.6 374.4h3.0v1.0h-3.0zM652.6 376.8h4.0v1.0h-4.0zM655.1 375.4h1.0v4.8h-1.0zM652.6 375.4h1.0v4.8h-1.0zM653.8 374.4h1.0v4.0h-1.0zM658.5 378.0h3.9v1.0h-3.9zM657.5 376.8h4.0v1.0h-4.0zM657.5 375.6h4.0v1.0h-4.0zM658.7 374.4h1.0v3.0h-1.0zM660.0 375.4h1.0v4.8h-1.0zM662.3 375.4h1.0v3.0h-1.0zM660.5 376.4h1.5v1.2h-1.5zM663.4 378.0h3.9v1.0h-3.9zM662.4 376.8h4.0v1.0h-4.0zM666.1 374.4h1.0v5.8h-1.0zM664.9 374.4h1.0v5.0h-1.0zM663.6 374.4h1.0v5.0h-1.0zM668.3 375.6h3.9v1.0h-3.9zM668.3 376.8h3.9v1.0h-3.9zM671.0 375.4h1.0v4.8h-1.0zM668.5 374.4h1.0v5.8h-1.0zM667.3 376.4h1.0v3.8h-1.0zM670.3 378.4h1.5v1.2h-1.5zM672.2 375.6h4.6v1.0h-4.6zM673.2 376.8h3.9v1.0h-3.9zM672.2 378.0h4.0v1.0h-4.0zM673.4 375.4h1.0v4.8h-1.0zM672.2 374.4h1.0v5.8h-1.0zM674.6 374.4h1.0v5.0h-1.0zM675.9 374.4h1.0v5.8h-1.0zM677.1 375.6h4.6v1.0h-4.6zM678.1 374.4h3.9v1.0h-3.9zM678.3 375.4h1.0v3.0h-1.0zM677.1 374.4h1.0v5.0h-1.0zM679.5 374.4h1.0v5.8h-1.0zM680.1 376.4h1.5v1.2h-1.5zM682.0 376.8h4.6v1.0h-4.6zM682.0 375.6h3.0v1.0h-3.0zM683.0 374.4h3.9v1.0h-3.9zM683.2 374.4h1.0v4.0h-1.0zM685.7 375.4h1.0v3.0h-1.0zM686.8 375.4h1.0v4.8h-1.0zM686.9 374.4h4.0v1.0h-4.0zM686.9 375.6h4.0v1.0h-4.0zM690.6 375.4h1.0v4.0h-1.0zM686.9 374.4h1.0v5.8h-1.0zM689.3 376.4h1.0v3.8h-1.0zM689.9 378.4h1.5v1.2h-1.5zM692.8 374.4h3.0v1.0h-3.0zM691.8 376.8h3.0v1.0h-3.0zM691.8 379.2h4.6v1.0h-4.6zM693.0 374.4h1.0v5.8h-1.0zM694.2 376.4h1.0v3.8h-1.0zM695.5 374.4h1.0v5.0h-1.0zM696.7 376.8h4.0v1.0h-4.0zM696.7 378.0h4.0v1.0h-4.0zM696.7 379.2h4.0v1.0h-4.0zM696.7 374.4h1.0v4.0h-1.0zM699.1 375.4h1.0v4.0h-1.0zM701.5 374.4h1.0v4.0h-1.0zM699.7 374.4h1.5v1.2h-1.5zM701.6 375.6h4.0v1.0h-4.0zM702.6 378.0h3.9v1.0h-3.9zM701.6 376.8h4.9v1.0h-4.9zM702.8 375.4h1.0v4.0h-1.0zM704.0 374.4h1.0v5.8h-1.0zM705.3 374.4h1.0v5.0h-1.0zM706.5 375.6h3.0v1.0h-3.0zM707.5 378.0h3.9v1.0h-3.9zM706.5 379.2h4.6v1.0h-4.6zM710.2 374.4h1.0v5.0h-1.0zM707.7 375.4h1.0v4.0h-1.0zM706.5 374.4h1.0v5.0h-1.0zM706.5 374.4h1.5v1.2h-1.5zM712.4 376.8h3.0v1.0h-3.0zM711.4 379.2h3.0v1.0h-3.0zM711.4 374.4h4.9v1.0h-4.9zM711.4 374.4h1.0v5.8h-1.0zM713.8 376.4h1.0v3.8h-1.0zM715.1 374.4h1.0v5.8h-1.0zM712.6 375.4h1.0v3.0h-1.0zM711.4 378.4h1.5v1.2h-1.5zM716.3 376.8h3.0v1.0h-3.0zM716.3 375.6h4.9v1.0h-4.9zM716.3 374.4h4.6v1.0h-4.6zM718.7 374.4h1.0v5.0h-1.0zM717.5 375.4h1.0v4.8h-1.0zM721.1 374.4h1.0v5.0h-1.0zM716.3 375.4h1.0v4.0h-1.0zM718.3 376.4h1.5v1.2h-1.5zM721.2 379.2h4.0v1.0h-4.0zM721.2 378.0h4.9v1.0h-4.9zM724.9 374.4h1.0v4.0h-1.0zM722.4 374.4h1.0v4.0h-1.0zM726.0 374.4h1.0v5.8h-1.0zM726.1 378.0h4.6v1.0h-4.6zM726.1 375.6h3.0v1.0h-3.0zM730.9 375.4h1.0v3.0h-1.0zM729.8 374.4h1.0v5.8h-1.0zM726.1 376.4h1.0v3.8h-1.0zM726.1 378.4h1.5v1.2h-1.5zM645.7 384.0h3.0v1.0h-3.0zM645.7 386.4h4.6v1.0h-4.6zM650.5 383.8h1.0v4.8h-1.0zM646.9 384.8h1.0v3.8h-1.0zM649.4 382.8h1.0v5.8h-1.0zM645.7 382.8h1.0v3.0h-1.0zM650.6 385.2h4.0v1.0h-4.0zM650.6 386.4h4.6v1.0h-4.6zM651.6 384.0h3.0v1.0h-3.0zM651.8 382.8h1.0v4.0h-1.0zM655.4 383.8h1.0v4.8h-1.0zM653.1 384.8h1.0v3.8h-1.0zM654.3 382.8h1.0v5.8h-1.0zM652.6 382.8h1.5v1.2h-1.5zM655.5 382.8h3.0v1.0h-3.0zM655.5 384.0h4.6v1.0h-4.6zM659.2 382.8h1.0v5.8h-1.0zM656.7 382.8h1.0v5.8h-1.0zM658.0 382.8h1.0v5.8h-1.0zM660.3 382.8h1.0v5.8h-1.0zM655.5 386.8h1.5v1.2h-1.5zM660.4 382.8h4.0v1.0h-4.0zM660.4 386.4h4.9v1.0h-4.9zM660.4 385.2h4.0v1.0h-4.0zM662.9 382.8h1.0v5.0h-1.0zM660.4 382.8h1.0v3.0h-1.0zM661.6 382.8h1.0v5.8h-1.0zM664.1 383.8h1.0v3.0h-1.0zM666.3 384.0h3.9v1.0h-3.9zM665.3 382.8h4.6v1.0h-4.6zM667.8 382.8h1.0v5.0h-1.0zM665.3 383.8h1.0v4.8h-1.0zM666.5 382.8h1.0v5.8h-1.0zM669.0 383.8h1.0v3.0h-1.0zM667.3 386.8h1.5v1.2h-1.5zM647.1 391.5h1.0v3.3h-1.0zM647.1 393.8h2.0v1.0h-2.0zM652.6 391.2h4.0v1.0h-4.0zM653.6 392.4h3.9v1.0h-3.9zM652.6 390.0h1.0v5.8h-1.0zM656.3 390.0h1.0v3.0h-1.0zM657.4 391.0h1.0v4.0h-1.0zM654.6 394.0h1.5v1.2h-1.5zM657.5 392.4h3.0v1.0h-3.0zM657.5 394.8h4.6v1.0h-4.6zM658.7 390.0h1.0v3.0h-1.0zM661.2 390.0h1.0v4.0h-1.0zM660.0 392.0h1.0v3.8h-1.0zM662.3 390.0h1.0v5.8h-1.0zM657.5 392.0h1.5v1.2h-1.5zM662.4 391.2h4.0v1.0h-4.0zM662.4 390.0h4.9v1.0h-4.9zM664.9 391.0h1.0v4.8h-1.0zM666.1 390.0h1.0v5.0h-1.0zM663.6 392.0h1.0v3.8h-1.0zM663.4 392.0h1.5v1.2h-1.5zM667.3 391.2h4.6v1.0h-4.6zM667.3 394.8h4.6v1.0h-4.6zM667.3 393.6h4.0v1.0h-4.0zM667.3 392.0h1.0v3.8h-1.0zM672.1 390.0h1.0v5.0h-1.0zM671.0 391.0h1.0v4.0h-1.0zM672.2 392.4h4.0v1.0h-4.0zM672.2 394.8h4.9v1.0h-4.9zM672.2 393.6h3.0v1.0h-3.0zM674.6 391.0h1.0v4.0h-1.0zM677.0 390.0h1.0v5.0h-1.0zM673.4 390.0h1.0v4.0h-1.0zM675.2 392.0h1.5v1.2h-1.5zM677.1 391.2h4.6v1.0h-4.6zM677.1 390.0h4.6v1.0h-4.6zM677.1 393.6h4.0v1.0h-4.0zM681.9 390.0h1.0v5.0h-1.0zM677.1 391.0h1.0v4.8h-1.0zM679.5 391.0h1.0v4.8h-1.0zM683.0 391.2h3.0v1.0h-3.0zM682.0 392.4h4.6v1.0h-4.6zM682.0 394.8h3.0v1.0h-3.0zM683.2 392.0h1.0v3.8h-1.0zM682.0 391.0h1.0v4.8h-1.0zM686.8 390.0h1.0v4.0h-1.0zM682.0 390.0h1.5v1.2h-1.5zM687.9 394.8h3.9v1.0h-3.9zM686.9 392.4h4.0v1.0h-4.0zM689.3 391.0h1.0v3.0h-1.0zM686.9 390.0h1.0v5.0h-1.0zM691.7 391.0h1.0v3.0h-1.0zM691.8 391.2h3.0v1.0h-3.0zM692.8 390.0h3.9v1.0h-3.9zM691.8 394.8h4.9v1.0h-4.9zM694.2 390.0h1.0v5.0h-1.0zM695.5 391.0h1.0v3.0h-1.0zM691.8 392.0h1.0v3.8h-1.0zM696.7 390.0h4.0v1.0h-4.0zM697.7 391.2h3.0v1.0h-3.0zM699.1 391.0h1.0v4.8h-1.0zM701.5 390.0h1.0v5.8h-1.0zM697.9 391.0h1.0v4.0h-1.0zM702.6 390.0h3.9v1.0h-3.9zM702.6 392.4h3.9v1.0h-3.9zM701.6 393.6h4.6v1.0h-4.6zM702.8 392.0h1.0v3.0h-1.0zM704.0 391.0h1.0v4.0h-1.0zM701.6 390.0h1.0v5.8h-1.0zM706.5 391.2h4.0v1.0h-4.0zM707.5 390.0h3.9v1.0h-3.9zM708.9 390.0h1.0v4.0h-1.0zM711.3 390.0h1.0v5.0h-1.0zM710.2 390.0h1.0v5.8h-1.0zM706.5 392.0h1.0v3.8h-1.0zM711.4 391.2h3.0v1.0h-3.0zM711.4 392.4h4.9v1.0h-4.9zM712.4 390.0h3.9v1.0h-3.9zM711.4 392.0h1.0v3.8h-1.0zM712.6 392.0h1.0v3.8h-1.0zM713.8 390.0h1.0v5.0h-1.0zM714.4 390.0h1.5v1.2h-1.5zM716.3 393.6h4.9v1.0h-4.9zM716.3 392.4h4.0v1.0h-4.0zM720.0 391.0h1.0v4.8h-1.0zM718.7 390.0h1.0v5.0h-1.0zM716.3 390.0h1.0v5.8h-1.0zM722.2 394.8h3.0v1.0h-3.0zM721.2 393.6h4.6v1.0h-4.6zM721.2 390.0h4.9v1.0h-4.9zM722.4 390.0h1.0v3.0h-1.0zM724.9 390.0h1.0v3.0h-1.0zM721.2 390.0h1.0v5.0h-1.0zM726.0 390.0h1.0v5.8h-1.0zM647.1 401.4h4.9v1.0h-4.9zM647.1 402.6h4.9v1.0h-4.9zM649.6 397.8h1.0v4.0h-1.0zM647.1 397.8h1.0v3.0h-1.0zM651.9 397.8h1.0v5.8h-1.0zM652.0 397.8h3.0v1.0h-3.0zM652.0 402.6h3.0v1.0h-3.0zM652.0 401.4h4.0v1.0h-4.0zM656.8 397.8h1.0v4.0h-1.0zM655.7 397.8h1.0v5.8h-1.0zM652.0 397.8h1.0v5.8h-1.0zM655.0 397.8h1.5v1.2h-1.5zM657.9 397.8h3.9v1.0h-3.9zM656.9 400.2h4.6v1.0h-4.6zM659.4 397.8h1.0v5.8h-1.0zM656.9 397.8h1.0v5.8h-1.0zM660.6 398.8h1.0v4.8h-1.0zM656.9 401.8h1.5v1.2h-1.5zM662.8 400.2h3.9v1.0h-3.9zM661.8 401.4h4.9v1.0h-4.9zM661.8 402.6h4.9v1.0h-4.9zM665.5 399.8h1.0v3.8h-1.0zM663.0 397.8h1.0v4.0h-1.0zM666.6 398.8h1.0v4.8h-1.0zM664.2 399.8h1.0v3.8h-1.0zM666.7 397.8h4.6v1.0h-4.6zM667.7 402.6h3.9v1.0h-3.9zM671.5 399.8h1.0v3.8h-1.0zM669.1 398.8h1.0v4.8h-1.0zM667.9 399.8h1.0v3.8h-1.0zM666.7 399.8h1.0v3.8h-1.0zM672.6 402.6h3.9v1.0h-3.9zM672.6 400.2h3.9v1.0h-3.9zM671.6 397.8h4.9v1.0h-4.9zM674.0 397.8h1.0v4.0h-1.0zM675.3 397.8h1.0v5.8h-1.0zM676.4 398.8h1.0v4.8h-1.0zM672.6 399.8h1.5v1.2h-1.5zM677.5 401.4h3.0v1.0h-3.0zM676.5 399.0h4.9v1.0h-4.9zM678.9 399.8h1.0v3.8h-1.0zM680.2 398.8h1.0v4.8h-1.0zM676.5 397.8h1.0v5.0h-1.0zM678.5 399.8h1.5v1.2h-1.5zM681.4 400.2h4.9v1.0h-4.9zM682.4 401.4h3.9v1.0h-3.9zM682.4 402.6h3.9v1.0h-3.9zM686.2 397.8h1.0v5.0h-1.0zM682.6 399.8h1.0v3.8h-1.0zM681.4 397.8h1.0v5.8h-1.0zM683.4 399.8h1.5v1.2h-1.5zM687.3 397.8h3.9v1.0h-3.9zM686.3 400.2h4.6v1.0h-4.6zM686.3 402.6h4.6v1.0h-4.6zM687.5 397.8h1.0v5.8h-1.0zM688.7 399.8h1.0v3.0h-1.0zM691.1 397.8h1.0v4.0h-1.0zM688.3 401.8h1.5v1.2h-1.5zM691.2 401.4h3.0v1.0h-3.0zM692.2 402.6h3.9v1.0h-3.9zM694.9 398.8h1.0v4.0h-1.0zM696.0 399.8h1.0v3.8h-1.0zM693.6 397.8h1.0v5.8h-1.0zM692.4 397.8h1.0v5.8h-1.0zM692.2 399.8h1.5v1.2h-1.5zM697.1 401.4h3.9v1.0h-3.9zM696.1 402.6h3.0v1.0h-3.0zM696.1 399.8h1.0v3.8h-1.0zM699.8 399.8h1.0v3.8h-1.0zM697.3 397.8h1.0v5.8h-1.0zM697.1 401.8h1.5v1.2h-1.5zM701.0 399.0h3.0v1.0h-3.0zM702.0 402.6h3.9v1.0h-3.9zM705.8 397.8h1.0v3.0h-1.0zM703.4 397.8h1.0v3.0h-1.0zM702.2 397.8h1.0v3.0h-1.0zM704.7 399.8h1.0v3.0h-1.0zM645.7 406.4h1.0v3.3h-1.0zM645.7 408.7h2.0v1.0h-2.0zM652.2 408.5h3.9v1.0h-3.9zM652.2 404.9h3.9v1.0h-3.9zM654.9 404.9h1.0v5.8h-1.0zM651.2 404.9h1.0v4.0h-1.0zM653.7 405.9h1.0v4.8h-1.0zM652.4 404.9h1.0v5.8h-1.0zM656.1 409.7h4.9v1.0h-4.9zM656.1 407.3h4.6v1.0h-4.6zM657.1 404.9h3.9v1.0h-3.9zM660.9 404.9h1.0v5.0h-1.0zM659.8 405.9h1.0v4.0h-1.0zM658.6 406.9h1.0v3.8h-1.0zM662.0 404.9h3.9v1.0h-3.9zM661.0 406.1h4.9v1.0h-4.9zM665.8 405.9h1.0v4.0h-1.0zM662.2 406.9h1.0v3.8h-1.0zM664.7 404.9h1.0v5.0h-1.0zM661.0 406.9h1.5v1.2h-1.5zM665.9 407.3h4.0v1.0h-4.0zM666.9 406.1h3.9v1.0h-3.9zM666.9 408.5h3.9v1.0h-3.9zM669.6 404.9h1.0v3.0h-1.0zM670.7 404.9h1.0v5.8h-1.0zM665.9 404.9h1.0v3.0h-1.0zM665.9 408.9h1.5v1.2h-1.5zM647.1 412.6h4.6v1.0h-4.6zM647.1 413.8h4.0v1.0h-4.0zM647.1 416.2h4.0v1.0h-4.0zM651.9 412.6h1.0v4.0h-1.0zM647.1 412.6h1.0v3.0h-1.0zM648.3 414.6h1.0v3.8h-1.0zM652.0 416.2h4.0v1.0h-4.0zM652.0 417.4h4.0v1.0h-4.0zM652.0 412.6h4.6v1.0h-4.6zM653.2 413.6h1.0v4.8h-1.0zM654.5 413.6h1.0v4.8h-1.0zM655.7 412.6h1.0v4.0h-1.0zM652.0 412.6h1.0v5.8h-1.0zM657.9 415.0h3.0v1.0h-3.0zM656.9 413.8h4.9v1.0h-4.9zM658.1 414.6h1.0v3.0h-1.0zM661.7 412.6h1.0v5.0h-1.0zM660.6 412.6h1.0v4.0h-1.0zM659.4 412.6h1.0v5.0h-1.0zM656.9 414.6h1.5v1.2h-1.5zM661.8 416.2h3.0v1.0h-3.0zM661.8 415.0h4.0v1.0h-4.0zM665.5 413.6h1.0v3.0h-1.0zM664.2 412.6h1.0v3.0h-1.0zM661.8 413.6h1.0v4.0h-1.0zM666.7 415.0h4.9v1.0h-4.9zM666.7 417.4h4.6v1.0h-4.6zM669.1 413.6h1.0v3.0h-1.0zM667.9 414.6h1.0v3.0h-1.0zM666.7 412.6h1.0v4.0h-1.0zM671.6 417.4h4.0v1.0h-4.0zM671.6 412.6h4.6v1.0h-4.6zM671.6 412.6h1.0v5.0h-1.0zM674.0 412.6h1.0v3.0h-1.0zM675.3 413.6h1.0v3.0h-1.0z"/>
<!--TXT1-->
</g>
<!-- TITLE -->
<g id="title" shape-rendering="crispEdges">
<!--TT0--><path fill="#fff" d="M634.0 482.0h160.0v6.0h-160.0zM634.0 482.0h6.0v50.0h-6.0zM640.0 490.9h67.0v1.0h-67.0zM640.0 496.8h67.0v1.0h-67.0zM640.0 502.7h67.0v1.0h-67.0zM640.0 508.9h67.0v1.0h-67.0zM640.0 514.8h67.0v1.0h-67.0zM640.0 521.8h67.0v1.0h-67.0zM640.0 528.0h67.0v1.0h-67.0zM645.0 488.0h1.0v15.2h-1.0zM654.3 488.0h1.0v15.2h-1.0zM667.9 488.0h1.0v15.2h-1.0zM682.9 488.0h1.0v15.2h-1.0zM693.0 488.0h1.0v15.2h-1.0zM646.6 509.0h1.0v22.3h-1.0zM658.1 509.0h1.0v22.3h-1.0zM671.3 509.0h1.0v22.3h-1.0zM682.9 509.0h1.0v22.3h-1.0zM706.7 488.0h1.5v43.5h-1.5zM749.9 488.0h1.4v43.5h-1.4zM708.0 508.5h42.0v1.4h-42.0zM708.0 517.5h42.0v1.4h-42.0zM708.0 525.5h42.0v1.3h-42.0zM730.0 509.9h1.0v15.6h-1.0zM741.4 509.9h0.8v15.6h-0.8zM713.0 518.9h1.1v6.6h-1.1zM719.0 518.9h1.1v6.6h-1.1zM724.2 518.9h1.1v6.6h-1.1zM751.0 499.5h42.0v1.7h-42.0zM751.0 517.4h42.0v1.7h-42.0z"/>
<path fill="#fff" d="M640.5 505.1h4.2v1.0h-4.2zM640.5 506.3h4.2v1.0h-4.2zM641.5 503.9h2.5v1.0h-2.5zM640.5 503.9h1.0v2.5h-1.0zM641.6 504.9h1.0v3.6h-1.0zM642.7 504.9h1.0v2.5h-1.0zM645.8 505.1h2.5v1.0h-2.5zM644.8 503.9h2.5v1.0h-2.5zM644.8 506.3h2.5v1.0h-2.5zM644.8 503.9h1.0v3.5h-1.0zM645.9 504.9h1.0v2.5h-1.0zM649.1 506.3h4.2v1.0h-4.2zM649.1 505.1h3.5v1.0h-3.5zM650.1 503.9h3.2v1.0h-3.2zM652.3 503.9h1.0v4.6h-1.0zM651.3 503.9h1.0v3.5h-1.0zM653.4 505.1h4.2v1.0h-4.2zM653.4 503.9h3.5v1.0h-3.5zM653.4 503.9h1.0v2.5h-1.0zM654.5 504.9h1.0v2.5h-1.0zM655.6 503.9h1.0v2.5h-1.0zM657.7 505.1h2.5v1.0h-2.5zM658.7 506.3h3.2v1.0h-3.2zM658.8 503.9h1.0v3.5h-1.0zM659.9 503.9h1.0v3.5h-1.0zM662.0 505.1h4.2v1.0h-4.2zM662.0 503.9h2.5v1.0h-2.5zM662.0 506.3h3.5v1.0h-3.5zM665.2 504.9h1.0v3.6h-1.0zM662.0 503.9h1.0v3.5h-1.0zM667.3 506.3h3.2v1.0h-3.2zM666.3 503.9h3.5v1.0h-3.5zM666.3 505.1h2.5v1.0h-2.5zM666.3 504.9h1.0v3.5h-1.0zM667.4 503.9h1.0v2.5h-1.0zM670.6 506.3h2.5v1.0h-2.5zM670.6 503.9h3.5v1.0h-3.5zM672.8 504.9h1.0v3.5h-1.0zM670.6 503.9h1.0v3.5h-1.0zM675.9 503.9h3.2v1.0h-3.2zM674.9 506.3h2.5v1.0h-2.5zM677.1 504.9h1.0v3.5h-1.0zM676.0 503.9h1.0v4.6h-1.0zM680.2 503.9h2.5v1.0h-2.5zM679.2 505.1h2.5v1.0h-2.5zM680.2 506.3h2.5v1.0h-2.5zM680.3 504.9h1.0v3.5h-1.0zM679.2 503.9h1.0v4.6h-1.0zM681.4 503.9h1.0v3.5h-1.0zM684.5 503.9h3.2v1.0h-3.2zM683.5 506.3h4.2v1.0h-4.2zM686.7 503.9h1.0v4.6h-1.0zM684.6 503.9h1.0v3.5h-1.0zM687.8 506.3h3.5v1.0h-3.5zM688.8 503.9h3.2v1.0h-3.2zM688.8 505.1h3.2v1.0h-3.2zM687.8 503.9h1.0v2.5h-1.0zM688.9 504.9h1.0v2.5h-1.0zM692.1 505.1h2.5v1.0h-2.5zM692.1 506.3h2.5v1.0h-2.5zM694.3 504.9h1.0v3.6h-1.0zM693.2 503.9h1.0v2.5h-1.0zM697.4 505.1h2.5v1.0h-2.5zM696.4 506.3h3.5v1.0h-3.5zM696.4 503.9h4.2v1.0h-4.2zM698.6 503.9h1.0v4.6h-1.0zM696.4 504.9h1.0v2.5h-1.0zM700.7 506.3h2.5v1.0h-2.5zM700.7 505.1h3.5v1.0h-3.5zM701.7 503.9h3.2v1.0h-3.2zM700.7 504.9h1.0v3.6h-1.0zM702.9 503.9h1.0v3.5h-1.0zM640.3 512.6h2.5v1.0h-2.5zM640.3 511.4h4.2v1.0h-4.2zM640.3 510.2h4.2v1.0h-4.2zM643.5 511.2h1.0v2.5h-1.0zM641.4 511.2h1.0v2.5h-1.0zM640.3 516.2h4.2v1.0h-4.2zM640.3 517.4h3.5v1.0h-3.5zM643.5 516.2h1.0v4.6h-1.0zM641.4 516.2h1.0v4.6h-1.0zM640.3 524.4h2.5v1.0h-2.5zM641.3 523.2h2.5v1.0h-2.5zM640.3 525.6h4.2v1.0h-4.2zM643.5 523.2h1.0v3.5h-1.0zM641.4 523.2h1.0v2.5h-1.0zM640.3 529.2h4.2v1.0h-4.2zM640.3 530.4h3.5v1.0h-3.5zM641.4 530.2h1.0v1.2h-1.0zM643.5 529.2h1.0v2.2h-1.0zM642.5 529.2h1.0v2.2h-1.0zM672.6 510.2h2.5v1.0h-2.5zM672.6 511.4h3.5v1.0h-3.5zM674.8 511.2h1.0v2.5h-1.0zM672.6 510.2h1.0v2.5h-1.0zM672.6 520.0h3.5v1.0h-3.5zM672.6 517.6h4.2v1.0h-4.2zM675.8 516.4h1.0v4.6h-1.0zM674.8 517.4h1.0v3.5h-1.0zM673.6 523.2h3.2v1.0h-3.2zM672.6 524.4h4.2v1.0h-4.2zM672.6 525.6h3.5v1.0h-3.5zM672.6 523.2h1.0v3.5h-1.0zM674.8 523.2h1.0v2.5h-1.0zM677.0 523.2h4.2v1.0h-4.2zM677.0 525.6h3.5v1.0h-3.5zM677.0 524.2h1.0v3.6h-1.0zM679.2 524.2h1.0v3.5h-1.0zM681.4 523.2h3.5v1.0h-3.5zM681.4 525.6h4.2v1.0h-4.2zM681.4 523.2h1.0v2.5h-1.0zM682.5 523.2h1.0v3.5h-1.0zM684.6 524.2h1.0v3.6h-1.0zM686.8 525.6h2.5v1.0h-2.5zM685.8 523.2h3.5v1.0h-3.5zM686.8 524.4h3.2v1.0h-3.2zM686.9 523.2h1.0v4.6h-1.0zM689.0 523.2h1.0v3.5h-1.0zM688.0 524.2h1.0v3.6h-1.0zM672.6 530.4h4.2v1.0h-4.2zM672.6 529.2h2.5v1.0h-2.5zM672.6 529.2h1.0v2.2h-1.0zM675.8 529.2h1.0v2.2h-1.0zM674.8 529.2h1.0v2.2h-1.0zM677.0 530.4h3.5v1.0h-3.5zM677.0 529.2h4.2v1.0h-4.2zM680.2 529.2h1.0v2.2h-1.0zM678.1 529.2h1.0v2.2h-1.0zM708.8 510.3h2.5v1.0h-2.5zM709.8 511.5h3.2v1.0h-3.2zM709.8 512.7h3.2v1.0h-3.2zM712.0 511.3h1.0v3.6h-1.0zM709.9 510.3h1.0v2.5h-1.0zM714.2 512.7h3.2v1.0h-3.2zM714.2 511.5h3.2v1.0h-3.2zM713.2 510.3h4.2v1.0h-4.2zM716.4 510.3h1.0v2.5h-1.0zM715.4 511.3h1.0v3.6h-1.0zM713.2 510.3h1.0v4.6h-1.0zM718.6 511.5h3.2v1.0h-3.2zM717.6 510.3h4.2v1.0h-4.2zM717.6 512.7h4.2v1.0h-4.2zM720.8 511.3h1.0v2.5h-1.0zM719.8 510.3h1.0v2.5h-1.0zM722.0 510.3h3.5v1.0h-3.5zM722.0 511.5h3.5v1.0h-3.5zM722.0 512.7h2.5v1.0h-2.5zM724.2 510.3h1.0v4.6h-1.0zM723.1 510.3h1.0v2.5h-1.0zM731.6 512.7h2.5v1.0h-2.5zM732.6 510.3h2.5v1.0h-2.5zM731.6 510.3h1.0v2.5h-1.0zM734.8 510.3h1.0v4.6h-1.0zM737.0 512.7h3.2v1.0h-3.2zM736.0 511.5h3.5v1.0h-3.5zM737.0 510.3h3.2v1.0h-3.2zM736.0 511.3h1.0v3.5h-1.0zM738.2 511.3h1.0v2.5h-1.0zM743.6 511.5h3.2v1.0h-3.2zM743.6 510.3h3.2v1.0h-3.2zM742.6 512.7h4.2v1.0h-4.2zM743.7 511.3h1.0v2.5h-1.0zM744.8 511.3h1.0v3.6h-1.0zM742.6 511.3h1.0v2.5h-1.0zM733.0 521.6h3.5v1.0h-3.5zM734.0 520.4h3.2v1.0h-3.2zM734.1 519.2h1.0v2.5h-1.0zM733.0 519.2h1.0v2.5h-1.0zM735.2 520.2h1.0v2.5h-1.0zM738.4 519.2h3.2v1.0h-3.2zM737.4 520.4h2.5v1.0h-2.5zM737.4 521.6h4.2v1.0h-4.2zM737.4 519.2h1.0v4.2h-1.0zM740.6 520.2h1.0v3.2h-1.0zM741.8 521.6h3.5v1.0h-3.5zM741.8 520.4h2.5v1.0h-2.5zM741.8 519.2h4.2v1.0h-4.2zM745.0 519.2h1.0v2.5h-1.0zM741.8 519.2h1.0v2.5h-1.0zM747.2 520.4h2.5v1.0h-2.5zM746.2 519.2h4.2v1.0h-4.2zM749.4 519.2h1.0v3.5h-1.0zM746.2 519.2h1.0v3.5h-1.0zM709.8 528.2h3.2v1.0h-3.2zM708.8 529.4h4.2v1.0h-4.2zM709.8 527.0h2.5v1.0h-2.5zM709.9 527.0h1.0v3.5h-1.0zM708.8 528.0h1.0v3.2h-1.0zM712.0 527.0h1.0v2.5h-1.0zM713.2 527.0h4.2v1.0h-4.2zM714.2 529.4h3.2v1.0h-3.2zM714.2 528.2h3.2v1.0h-3.2zM714.3 528.0h1.0v3.2h-1.0zM715.4 527.0h1.0v3.5h-1.0zM717.6 529.4h2.5v1.0h-2.5zM717.6 527.0h4.2v1.0h-4.2zM719.8 527.0h1.0v2.5h-1.0zM718.7 528.0h1.0v2.5h-1.0zM717.6 527.0h1.0v3.5h-1.0zM735.4 527.0h3.2v1.0h-3.2zM734.4 529.4h2.5v1.0h-2.5zM734.4 528.2h4.2v1.0h-4.2zM736.6 527.0h1.0v4.2h-1.0zM735.5 527.0h1.0v4.2h-1.0zM739.8 527.0h3.2v1.0h-3.2zM739.8 528.2h2.5v1.0h-2.5zM738.8 527.0h1.0v4.2h-1.0zM739.9 527.0h1.0v4.2h-1.0zM742.0 527.0h1.0v3.5h-1.0zM744.2 529.4h3.2v1.0h-3.2zM743.2 527.0h2.5v1.0h-2.5zM743.2 528.2h3.5v1.0h-3.5zM745.4 528.0h1.0v3.2h-1.0zM744.3 528.0h1.0v3.2h-1.0zM752.5 522.0h2.5v1.0h-2.5zM752.5 524.4h3.2v1.0h-3.2zM752.5 523.2h2.5v1.0h-2.5zM754.7 522.0h1.0v2.5h-1.0zM751.5 522.0h1.0v4.6h-1.0zM752.6 523.0h1.0v3.7h-1.0zM756.2 525.6h4.2v1.0h-4.2zM756.2 523.2h4.2v1.0h-4.2zM758.4 523.0h1.0v3.5h-1.0zM757.3 522.0h1.0v4.6h-1.0zM760.9 524.4h2.5v1.0h-2.5zM760.9 525.6h4.2v1.0h-4.2zM760.9 523.2h4.2v1.0h-4.2zM762.0 522.0h1.0v3.5h-1.0zM764.1 523.0h1.0v3.5h-1.0zM763.1 522.0h1.0v4.6h-1.0zM766.6 522.0h3.2v1.0h-3.2zM765.6 525.6h2.5v1.0h-2.5zM765.6 523.2h4.2v1.0h-4.2zM765.6 522.0h1.0v2.5h-1.0zM767.8 522.0h1.0v4.6h-1.0zM770.3 522.0h2.5v1.0h-2.5zM770.3 524.4h2.5v1.0h-2.5zM770.3 523.2h4.2v1.0h-4.2zM771.4 522.0h1.0v3.5h-1.0zM770.3 522.0h1.0v4.6h-1.0zM775.0 524.4h4.2v1.0h-4.2zM776.0 525.6h2.5v1.0h-2.5zM775.0 523.2h4.2v1.0h-4.2zM776.1 522.0h1.0v2.5h-1.0zM775.0 523.0h1.0v3.5h-1.0zM780.7 524.4h3.2v1.0h-3.2zM780.7 523.2h3.2v1.0h-3.2zM780.7 525.6h3.2v1.0h-3.2zM780.8 522.0h1.0v2.5h-1.0zM781.9 522.0h1.0v4.6h-1.0zM782.9 523.0h1.0v2.5h-1.0zM784.4 522.0h3.5v1.0h-3.5zM784.4 525.6h4.2v1.0h-4.2zM784.4 523.2h2.5v1.0h-2.5zM785.5 522.0h1.0v2.5h-1.0zM786.6 522.0h1.0v4.6h-1.0z"/>
<path fill="#0ff" d="M648.9 508.0h1.0v6.6h-1.0zM648.9 515.0h1.0v5.0h-1.0zM653.3 508.0h1.0v6.6h-1.0zM653.3 515.0h1.0v5.0h-1.0zM647.4 510.0h2.2v1.0h-2.2zM650.4 510.0h2.4v1.0h-2.4zM653.6 510.0h2.4v1.0h-2.4zM647.4 512.8h2.2v1.0h-2.2zM650.4 512.8h2.4v1.0h-2.4zM653.6 512.8h2.4v1.0h-2.4zM647.4 516.0h2.2v1.0h-2.2zM650.4 516.0h2.4v1.0h-2.4zM653.6 516.0h2.4v1.0h-2.4zM647.4 518.4h2.2v1.0h-2.2zM650.4 518.4h2.4v1.0h-2.4zM653.6 518.4h2.4v1.0h-2.4z"/>
<path fill="none" stroke="#0ff" stroke-width="1" d="M685.4 528.6L686.9 528.6L686.9 529.8L685.4 529.8L685.4 531.0L686.9 531.0M687.7 528.6L689.2 528.6L689.2 531.0L687.7 531.0ZM690.8 528.6L690.8 531.0M693.8 528.6L692.3 528.6L692.3 531.0L693.8 531.0L693.8 529.8L692.3 529.8M695.2 530.8L695.2 531.0M698.4 528.6L696.9 528.6L696.9 531.0L698.4 531.0L698.4 529.8L696.9 529.8M699.8 530.8L699.8 531.0M703.0 528.6L701.5 528.6L701.5 531.0L703.0 531.0L703.0 529.8L701.5 529.8"/>
<g fill="none" stroke="#fff" stroke-width="1.2">
<path d="M717.9 491.6V501.5M715.1 494.4H720.2M715.1 497.7H720.2M714 501.6H721.1"/>
<path d="M723.4 491V503M722 495.2H724.8M722 499.6L724.8 498.8M725.6 492.4V502M725.6 492.5H729M725.6 495.4H729M725.6 498.3H729M725.6 501.5H729.3M727.4 495.4V501.5"/>
<path d="M731.2 494.9H737M732 494.9V498M733.6 494.9V497.6M735.4 494.9V498M737 494.9V498M735.4 497.6H737M730.9 499.1H738.1M734.5 497V503M734 499.6L731.6 502M735.1 499.6L737.9 502.6"/>
</g>
<g fill="none" stroke="#fff" stroke-width="1.1">
<path d="M757.3 492V495M760 492.1H765.6M761.3 492V495M764.1 492V495M766 492V494.7H767.9M769 492.3H771.5M772.1 492H774.2V495H772.1ZM775.9 492V495M779.2 492.3H781.7M782.2 492H784.2V495H782.2ZM785.8 492V495"/>
<path d="M757.3 506.5V509.6M760 506.5H765.6M761.3 506.5V509.6M764.1 506.5V509.6M766 506.5V509.2H767.9M769.4 507.5V509.6M771.3 506.6V509.6M771.3 506.8H772.8M775.8 506.8H778.2M778.4 506.8V509.6M782.2 506.8H784.3M784.8 506.7H787.6V508L784.8 509.4H787.8"/>
</g>
<!--TT1-->
</g>
</svg>
</body></html>
